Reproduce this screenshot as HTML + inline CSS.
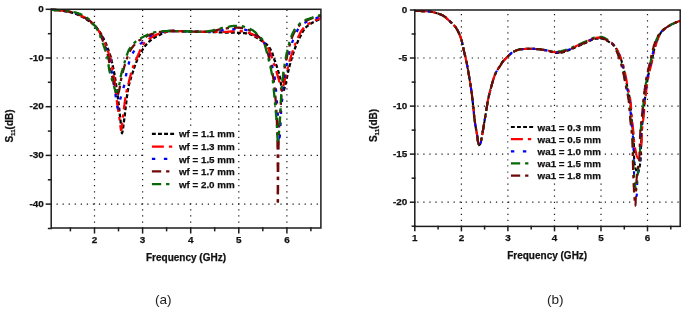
<!DOCTYPE html>
<html lang="en"><head><meta charset="utf-8"><title>S11 parametric study</title>
<style>
html,body{margin:0;padding:0;background:#fff;}
body{width:685px;height:309px;overflow:hidden;}
svg{display:block;}
.t{font-family:"Liberation Sans",Arial,sans-serif;font-weight:bold;font-size:9.9px;fill:#111;stroke:#111;stroke-width:0.25;}
.lg{font-size:9.8px;}
.xl{font-size:10px;}
.cap{font-family:"Liberation Sans",Arial,sans-serif;font-size:13.6px;fill:#222;}
.ax{stroke:#1c1c1c;stroke-width:1.5;stroke-linecap:square;}
.grid{stroke:#1a1a1a;stroke-width:1.2;stroke-dasharray:1.25 4.8;stroke-dashoffset:0.7;}
</style></head><body>
<svg width="685" height="309" viewBox="0 0 685 309">
<rect width="685" height="309" fill="#fff"/>
<g>
<line x1="94.5" y1="228.0" x2="94.5" y2="9.3" class="grid"/>
<line x1="142.6" y1="228.0" x2="142.6" y2="9.3" class="grid"/>
<line x1="190.7" y1="228.0" x2="190.7" y2="9.3" class="grid"/>
<line x1="238.8" y1="228.0" x2="238.8" y2="9.3" class="grid"/>
<line x1="286.9" y1="228.0" x2="286.9" y2="9.3" class="grid"/>
<line x1="51.2" y1="58.0" x2="320.9" y2="58.0" class="grid" style="stroke-dashoffset:0.7"/>
<line x1="51.2" y1="106.7" x2="320.9" y2="106.7" class="grid" style="stroke-dashoffset:0.7"/>
<line x1="51.2" y1="155.4" x2="320.9" y2="155.4" class="grid" style="stroke-dashoffset:0.7"/>
<line x1="51.2" y1="204.1" x2="320.9" y2="204.1" class="grid" style="stroke-dashoffset:0.7"/>
<path d="M51.3,9.9 L52.3,9.9 L53.3,9.9 L54.3,10.0 L55.3,10.0 L56.3,10.1 L57.3,10.1 L58.3,10.2 L59.3,10.3 L60.3,10.4 L61.3,10.6 L62.3,10.7 L63.3,10.8 L64.2,11.0 L65.2,11.1 L66.2,11.3 L67.2,11.5 L68.2,11.7 L69.2,11.9 L70.1,12.1 L71.1,12.4 L72.1,12.6 L73.0,12.9 L74.0,13.2 L74.9,13.5 L75.9,13.9 L76.8,14.3 L77.7,14.7 L78.6,15.1 L79.5,15.5 L80.4,15.9 L81.3,16.4 L82.2,16.8 L83.1,17.3 L84.0,17.8 L84.8,18.3 L85.7,18.8 L86.5,19.4 L87.4,19.9 L88.2,20.5 L89.0,21.1 L89.8,21.7 L90.6,22.3 L91.4,22.9 L92.2,23.5 L93.0,24.2 L93.7,24.8 L94.4,25.5 L95.1,26.2 L95.8,27.0 L96.5,27.7 L97.1,28.5 L97.8,29.2 L98.4,30.0 L99.0,30.8 L99.6,31.7 L100.1,32.5 L100.7,33.3 L101.2,34.2 L101.7,35.0 L102.2,35.9 L102.7,36.8 L103.2,37.7 L103.6,38.6 L104.0,39.5 L104.5,40.4 L104.9,41.3 L105.3,42.2 L105.7,43.1 L106.1,44.0 L106.5,44.9 L106.8,45.9 L107.2,46.8 L107.6,47.7 L107.9,48.7 L108.3,49.6 L108.6,50.6 L109.0,51.5 L109.3,52.5 L109.6,53.4 L109.9,54.4 L110.2,55.3 L110.5,56.3 L110.7,57.2 L111.0,58.2 L111.2,59.2 L111.5,60.1 L111.7,61.1 L111.9,62.1 L112.2,63.0 L112.4,64.0 L112.6,65.0 L112.8,66.0 L113.0,66.9 L113.2,67.9 L113.4,68.9 L113.6,69.9 L113.8,70.9 L114.0,71.9 L114.2,72.9 L114.3,73.8 L114.5,74.8 L114.7,75.8 L114.9,76.8 L115.0,77.8 L115.2,78.8 L115.4,79.8 L115.5,80.7 L115.7,81.7 L115.8,82.7 L116.0,83.7 L116.1,84.7 L116.3,85.7 L116.4,86.7 L116.6,87.7 L116.7,88.7 L116.8,89.6 L117.0,90.6 L117.1,91.6 L117.2,92.6 L117.4,93.6 L117.5,94.6 L117.6,95.6 L117.8,96.6 L117.9,97.6 L118.0,98.6 L118.1,99.6 L118.3,100.6 L118.4,101.5 L118.5,102.5 L118.6,103.5 L118.7,104.5 L118.9,105.5 L119.0,106.5 L119.1,107.5 L119.2,108.5 L119.3,109.5 L119.4,110.5 L119.5,111.5 L119.6,112.5 L119.7,113.5 L119.8,114.5 L119.9,115.5 L120.1,116.5 L120.2,117.4 L120.3,118.4 L120.4,119.4 L120.5,120.4 L120.6,121.4 L120.7,122.4 L120.8,123.4 L120.9,124.4 L121.0,125.4 L121.1,126.4 L121.3,127.6 L121.4,128.9 L121.5,130.2 L121.6,131.4 L121.8,132.3 L121.9,132.9 L122.0,133.0 L122.2,132.7 L122.4,132.1 L122.5,131.3 L122.7,130.3 L122.9,129.2 L123.1,128.0 L123.3,126.7 L123.4,125.3 L123.6,124.1 L123.8,122.9 L123.9,121.8 L124.0,120.8 L124.2,119.8 L124.3,118.9 L124.4,117.9 L124.6,116.9 L124.7,115.9 L124.8,114.9 L124.9,113.9 L125.0,112.9 L125.1,111.9 L125.2,110.9 L125.3,109.9 L125.5,108.9 L125.6,107.9 L125.7,106.9 L125.8,105.9 L125.9,104.9 L126.1,104.0 L126.2,103.0 L126.3,102.0 L126.4,101.0 L126.5,100.0 L126.7,99.0 L126.8,98.0 L126.9,97.0 L127.0,96.0 L127.2,95.0 L127.3,94.0 L127.4,93.0 L127.6,92.0 L127.7,91.1 L127.9,90.1 L128.1,89.1 L128.2,88.1 L128.4,87.1 L128.7,86.2 L128.9,85.2 L129.1,84.2 L129.4,83.3 L129.6,82.3 L129.9,81.3 L130.2,80.4 L130.5,79.4 L130.8,78.4 L131.0,77.5 L131.3,76.5 L131.7,75.6 L132.0,74.6 L132.3,73.7 L132.6,72.7 L132.9,71.8 L133.2,70.8 L133.5,69.9 L133.8,68.9 L134.1,67.9 L134.5,67.0 L134.8,66.0 L135.1,65.1 L135.5,64.2 L135.9,63.2 L136.2,62.3 L136.6,61.4 L137.0,60.4 L137.4,59.5 L137.8,58.6 L138.2,57.7 L138.6,56.8 L139.1,55.9 L139.5,55.1 L140.0,54.2 L140.5,53.3 L141.0,52.4 L141.5,51.5 L142.0,50.6 L142.5,49.8 L143.1,48.9 L143.7,48.1 L144.2,47.3 L144.8,46.4 L145.4,45.6 L146.0,44.9 L146.7,44.1 L147.3,43.4 L148.0,42.7 L148.7,42.0 L149.4,41.3 L150.2,40.6 L151.0,40.0 L151.8,39.4 L152.6,38.8 L153.4,38.2 L154.2,37.7 L155.1,37.2 L156.0,36.7 L156.9,36.2 L157.7,35.7 L158.7,35.3 L159.6,34.9 L160.5,34.4 L161.4,34.0 L162.3,33.7 L163.2,33.3 L164.2,32.8 L165.1,32.4 L166.1,32.0 L167.0,31.7 L168.0,31.4 L168.9,31.1 L169.9,31.0 L170.9,31.0 L171.9,31.0 L172.9,31.0 L173.9,31.0 L174.9,31.1 L175.9,31.1 L176.9,31.1 L177.9,31.1 L178.9,31.2 L179.9,31.2 L180.9,31.2 L181.9,31.3 L182.9,31.3 L183.9,31.3 L184.9,31.3 L185.9,31.4 L186.9,31.4 L187.9,31.4 L188.9,31.5 L189.9,31.5 L190.9,31.5 L191.9,31.5 L192.9,31.6 L193.9,31.6 L194.9,31.6 L195.9,31.6 L196.9,31.7 L197.9,31.7 L198.9,31.7 L199.9,31.7 L200.9,31.7 L201.9,31.8 L202.9,31.8 L203.9,31.8 L204.9,31.9 L205.9,31.9 L206.9,31.9 L207.9,31.9 L208.9,32.0 L209.9,32.0 L210.9,32.0 L211.9,32.1 L212.9,32.1 L213.9,32.1 L214.9,32.2 L215.9,32.2 L216.9,32.2 L217.9,32.3 L218.9,32.3 L219.9,32.3 L220.9,32.4 L221.9,32.4 L222.9,32.4 L223.9,32.5 L224.9,32.5 L225.9,32.5 L226.9,32.5 L227.9,32.6 L228.9,32.6 L229.9,32.6 L230.9,32.6 L231.9,32.6 L232.9,32.7 L233.9,32.7 L234.9,32.7 L235.9,32.7 L236.9,32.7 L237.9,32.8 L238.9,32.8 L239.9,32.8 L240.9,32.9 L241.9,33.0 L242.9,33.0 L243.9,33.1 L244.9,33.2 L245.8,33.3 L246.8,33.5 L247.8,33.7 L248.8,33.9 L249.8,34.2 L250.7,34.5 L251.6,34.9 L252.6,35.2 L253.4,35.7 L254.3,36.1 L255.2,36.7 L256.0,37.2 L256.9,37.8 L257.7,38.3 L258.6,38.8 L259.4,39.4 L260.3,39.9 L261.2,40.4 L262.0,40.9 L262.8,41.5 L263.6,42.1 L264.4,42.7 L265.2,43.4 L266.0,44.0 L266.8,44.7 L267.5,45.4 L268.2,46.1 L268.9,46.9 L269.4,47.7 L270.0,48.4 L270.4,49.3 L270.9,50.1 L271.3,51.0 L271.7,51.9 L272.1,52.8 L272.5,53.7 L272.8,54.7 L273.1,55.7 L273.5,56.6 L273.8,57.6 L274.1,58.6 L274.4,59.6 L274.7,60.5 L275.1,61.5 L275.4,62.5 L275.7,63.4 L276.0,64.3 L276.4,65.3 L276.7,66.2 L277.0,67.2 L277.3,68.1 L277.6,69.1 L277.9,70.1 L278.2,71.0 L278.5,72.0 L278.8,72.9 L279.0,73.9 L279.3,74.9 L279.5,75.8 L279.8,76.9 L280.0,78.0 L280.2,79.2 L280.4,80.5 L280.6,81.8 L280.8,83.1 L281.0,84.3 L281.2,85.6 L281.4,86.8 L281.6,87.9 L281.8,89.0 L282.0,89.9 L282.2,90.7 L282.4,91.3 L282.6,91.7 L282.9,92.0 L283.1,91.9 L283.4,91.5 L283.8,90.6 L284.1,89.5 L284.5,88.3 L284.8,87.1 L285.1,85.9 L285.3,84.9 L285.6,84.0 L285.8,83.0 L286.0,82.0 L286.2,81.0 L286.4,80.1 L286.6,79.1 L286.8,78.1 L287.0,77.1 L287.2,76.1 L287.4,75.1 L287.6,74.2 L287.8,73.2 L288.0,72.2 L288.3,71.2 L288.5,70.3 L288.7,69.3 L288.9,68.3 L289.2,67.3 L289.4,66.4 L289.7,65.4 L289.9,64.4 L290.2,63.5 L290.4,62.5 L290.7,61.5 L291.0,60.6 L291.3,59.6 L291.5,58.7 L291.8,57.7 L292.1,56.7 L292.4,55.8 L292.7,54.8 L293.0,53.9 L293.4,52.9 L293.7,52.0 L294.0,51.0 L294.3,50.1 L294.7,49.2 L295.0,48.2 L295.4,47.3 L295.7,46.4 L296.1,45.4 L296.5,44.5 L296.9,43.6 L297.3,42.7 L297.7,41.8 L298.1,40.8 L298.5,39.9 L299.0,39.0 L299.4,38.1 L299.9,37.2 L300.3,36.4 L300.8,35.5 L301.3,34.5 L301.7,33.6 L302.2,32.7 L302.7,31.8 L303.2,30.9 L303.8,30.1 L304.3,29.3 L304.9,28.5 L305.5,27.8 L306.2,27.1 L306.9,26.5 L307.6,25.9 L308.4,25.3 L309.3,24.7 L310.1,24.1 L311.0,23.6 L311.9,23.0 L312.8,22.5 L313.7,22.0 L314.6,21.6 L315.5,21.1 L316.4,20.7 L317.3,20.3 L318.2,19.9 L319.1,19.5 L320.1,19.1 L321.0,18.8" fill="none" stroke="#000000" stroke-width="2.3" stroke-dasharray="3.9 2.2"/>
<path d="M51.3,9.9 L52.3,9.9 L53.3,9.9 L54.3,10.0 L55.3,10.0 L56.3,10.1 L57.3,10.1 L58.3,10.2 L59.3,10.3 L60.3,10.4 L61.3,10.5 L62.3,10.6 L63.3,10.7 L64.2,10.9 L65.2,11.0 L66.2,11.2 L67.2,11.3 L68.2,11.5 L69.2,11.7 L70.2,11.9 L71.1,12.1 L72.1,12.3 L73.1,12.6 L74.0,12.9 L75.0,13.2 L75.9,13.5 L76.9,13.8 L77.8,14.2 L78.7,14.6 L79.6,15.0 L80.6,15.4 L81.5,15.8 L82.3,16.2 L83.2,16.7 L84.1,17.2 L85.0,17.7 L85.9,18.2 L86.7,18.7 L87.6,19.3 L88.4,19.8 L89.2,20.4 L90.0,21.0 L90.8,21.6 L91.5,22.3 L92.3,22.9 L93.0,23.7 L93.7,24.4 L94.4,25.1 L95.0,25.9 L95.6,26.6 L96.3,27.4 L96.9,28.2 L97.4,29.0 L98.0,29.9 L98.6,30.7 L99.1,31.5 L99.6,32.4 L100.1,33.2 L100.6,34.1 L101.1,35.0 L101.6,35.9 L102.1,36.8 L102.5,37.6 L102.9,38.6 L103.4,39.5 L103.8,40.4 L104.2,41.3 L104.5,42.2 L104.9,43.1 L105.3,44.0 L105.7,45.0 L106.1,45.9 L106.4,46.8 L106.8,47.8 L107.1,48.7 L107.5,49.7 L107.8,50.6 L108.1,51.6 L108.4,52.5 L108.7,53.5 L109.0,54.4 L109.3,55.4 L109.6,56.3 L109.8,57.3 L110.1,58.3 L110.3,59.2 L110.6,60.2 L110.8,61.1 L111.0,62.1 L111.3,63.1 L111.5,64.1 L111.7,65.0 L111.9,66.0 L112.1,67.0 L112.3,68.0 L112.5,69.0 L112.7,70.0 L112.9,70.9 L113.1,71.9 L113.2,72.9 L113.4,73.9 L113.6,74.9 L113.7,75.9 L113.9,76.9 L114.1,77.8 L114.2,78.8 L114.4,79.8 L114.5,80.8 L114.7,81.8 L114.8,82.8 L114.9,83.8 L115.0,84.8 L115.2,85.7 L115.3,86.7 L115.4,87.7 L115.5,88.7 L115.6,89.7 L115.7,90.7 L115.8,91.7 L115.9,92.7 L116.1,93.7 L116.2,94.7 L116.3,95.7 L116.4,96.7 L116.5,97.7 L116.6,98.7 L116.7,99.7 L116.8,100.6 L116.9,101.6 L117.1,102.6 L117.2,103.6 L117.3,104.6 L117.5,105.6 L117.6,106.6 L117.8,107.6 L117.9,108.6 L118.1,109.5 L118.2,110.5 L118.4,111.5 L118.5,112.5 L118.7,113.5 L118.8,114.5 L119.0,115.5 L119.2,116.5 L119.3,117.4 L119.5,118.4 L119.6,119.4 L119.8,120.4 L119.9,121.4 L120.1,122.4 L120.2,123.6 L120.3,124.9 L120.4,126.2 L120.6,127.4 L120.7,128.5 L120.8,129.3 L120.9,129.7 L121.1,129.6 L121.2,129.2 L121.4,128.5 L121.6,127.6 L121.8,126.4 L121.9,125.2 L122.1,123.9 L122.3,122.6 L122.4,121.3 L122.6,120.2 L122.7,119.2 L122.8,118.2 L122.9,117.3 L123.1,116.3 L123.2,115.3 L123.3,114.3 L123.4,113.3 L123.5,112.3 L123.6,111.3 L123.7,110.3 L123.8,109.3 L124.0,108.3 L124.1,107.3 L124.2,106.3 L124.3,105.3 L124.5,104.4 L124.6,103.4 L124.7,102.4 L124.9,101.4 L125.0,100.4 L125.1,99.4 L125.3,98.4 L125.4,97.4 L125.6,96.4 L125.7,95.5 L125.9,94.5 L126.1,93.5 L126.3,92.5 L126.5,91.5 L126.7,90.6 L126.9,89.6 L127.2,88.6 L127.5,87.7 L127.7,86.7 L128.0,85.7 L128.2,84.8 L128.4,83.8 L128.7,82.8 L128.9,81.8 L129.1,80.9 L129.4,79.9 L129.6,78.9 L129.8,77.9 L130.1,77.0 L130.3,76.0 L130.6,75.0 L130.8,74.1 L131.1,73.1 L131.4,72.1 L131.6,71.2 L131.9,70.2 L132.2,69.3 L132.5,68.4 L132.9,67.4 L133.2,66.5 L133.6,65.5 L133.9,64.6 L134.3,63.7 L134.7,62.8 L135.1,61.8 L135.5,60.9 L135.9,60.0 L136.3,59.1 L136.7,58.2 L137.1,57.3 L137.5,56.3 L137.9,55.4 L138.3,54.5 L138.7,53.5 L139.1,52.6 L139.5,51.6 L139.9,50.7 L140.3,49.7 L140.7,48.8 L141.2,47.9 L141.6,47.0 L142.1,46.1 L142.6,45.3 L143.1,44.5 L143.7,43.7 L144.2,43.0 L144.9,42.2 L145.5,41.5 L146.3,40.9 L147.1,40.2 L147.9,39.6 L148.7,39.0 L149.6,38.4 L150.4,37.9 L151.3,37.4 L152.1,36.9 L153.0,36.4 L153.9,35.9 L154.8,35.5 L155.7,35.0 L156.6,34.6 L157.5,34.2 L158.5,33.8 L159.4,33.5 L160.4,33.2 L161.3,32.9 L162.3,32.6 L163.2,32.3 L164.2,32.1 L165.2,31.8 L166.2,31.6 L167.1,31.4 L168.1,31.2 L169.1,31.1 L170.1,31.0 L171.1,31.0 L172.1,31.0 L173.1,31.0 L174.1,31.0 L175.1,31.1 L176.1,31.1 L177.1,31.1 L178.1,31.1 L179.1,31.2 L180.1,31.2 L181.1,31.2 L182.1,31.3 L183.1,31.3 L184.1,31.3 L185.1,31.4 L186.1,31.4 L187.1,31.4 L188.1,31.4 L189.1,31.5 L190.1,31.5 L191.1,31.5 L192.1,31.6 L193.1,31.6 L194.1,31.6 L195.1,31.7 L196.1,31.7 L197.1,31.7 L198.1,31.7 L199.1,31.8 L200.1,31.8 L201.1,31.8 L202.1,31.8 L203.1,31.8 L204.1,31.8 L205.1,31.8 L206.1,31.8 L207.0,31.8 L208.0,31.8 L209.0,31.8 L210.0,31.8 L211.0,31.8 L212.0,31.8 L213.0,31.8 L214.0,31.8 L215.0,31.8 L216.0,31.8 L217.0,31.8 L218.0,31.8 L219.0,31.8 L220.0,31.8 L221.0,31.8 L222.0,31.8 L223.0,31.8 L224.0,31.8 L225.0,31.8 L226.0,31.8 L227.0,31.8 L228.0,31.7 L229.0,31.6 L230.0,31.6 L231.0,31.5 L232.0,31.4 L233.0,31.3 L234.0,31.2 L235.0,31.1 L236.0,31.1 L237.0,31.0 L238.0,31.0 L239.0,31.0 L240.0,31.0 L241.0,31.1 L242.0,31.3 L243.0,31.4 L244.0,31.6 L244.9,31.8 L245.9,32.0 L246.9,32.2 L247.8,32.5 L248.8,32.8 L249.8,33.1 L250.7,33.5 L251.6,33.8 L252.5,34.2 L253.4,34.7 L254.3,35.1 L255.2,35.7 L256.0,36.2 L256.9,36.7 L257.7,37.3 L258.5,37.9 L259.3,38.4 L260.1,39.0 L260.9,39.7 L261.7,40.3 L262.5,41.0 L263.2,41.7 L263.8,42.4 L264.5,43.1 L265.1,43.9 L265.8,44.7 L266.4,45.5 L266.9,46.3 L267.5,47.2 L268.0,48.0 L268.5,48.9 L268.9,49.8 L269.3,50.7 L269.7,51.6 L270.1,52.5 L270.4,53.5 L270.7,54.4 L271.1,55.4 L271.4,56.3 L271.7,57.3 L272.1,58.2 L272.4,59.2 L272.7,60.1 L273.1,61.0 L273.4,62.0 L273.7,62.9 L274.0,63.9 L274.3,64.8 L274.7,65.8 L275.0,66.7 L275.3,67.7 L275.6,68.6 L275.9,69.6 L276.2,70.5 L276.5,71.5 L276.7,72.5 L277.0,73.4 L277.3,74.4 L277.6,75.3 L277.9,76.3 L278.1,77.2 L278.4,78.2 L278.7,79.2 L279.0,80.1 L279.2,81.1 L279.5,82.0 L279.8,83.1 L280.1,84.3 L280.4,85.6 L280.6,86.9 L280.9,88.0 L281.2,89.1 L281.5,89.9 L281.7,90.5 L282.0,90.7 L282.3,90.5 L282.5,89.9 L282.8,88.9 L283.0,87.8 L283.3,86.6 L283.5,85.3 L283.8,84.0 L284.0,83.0 L284.3,82.0 L284.5,81.0 L284.7,80.1 L285.0,79.1 L285.2,78.1 L285.5,77.2 L285.7,76.2 L285.9,75.2 L286.2,74.3 L286.4,73.3 L286.7,72.3 L286.9,71.3 L287.2,70.4 L287.4,69.4 L287.6,68.4 L287.9,67.5 L288.1,66.5 L288.4,65.5 L288.6,64.6 L288.9,63.6 L289.1,62.6 L289.4,61.7 L289.6,60.7 L289.9,59.7 L290.2,58.8 L290.5,57.8 L290.8,56.9 L291.1,55.9 L291.4,55.0 L291.7,54.0 L292.0,53.1 L292.3,52.1 L292.6,51.2 L292.9,50.2 L293.3,49.3 L293.6,48.3 L293.9,47.4 L294.3,46.5 L294.7,45.5 L295.0,44.6 L295.4,43.7 L295.8,42.8 L296.2,41.8 L296.6,40.9 L297.0,40.0 L297.4,39.1 L297.8,38.2 L298.2,37.2 L298.6,36.3 L299.0,35.4 L299.5,34.4 L299.9,33.5 L300.4,32.7 L300.8,31.8 L301.3,31.0 L301.9,30.2 L302.5,29.4 L303.1,28.6 L303.8,27.9 L304.5,27.2 L305.2,26.5 L306.0,25.8 L306.8,25.1 L307.6,24.5 L308.4,23.9 L309.2,23.4 L310.0,22.9 L310.9,22.4 L311.8,21.9 L312.7,21.5 L313.6,21.1 L314.5,20.7 L315.4,20.2 L316.4,19.8 L317.3,19.5 L318.2,19.1 L319.1,18.7 L320.1,18.3 L321.0,18.0" fill="none" stroke="#ff0000" stroke-width="2.3" stroke-dasharray="12 5 3.3 5"/>
<path d="M51.3,9.9 L52.3,9.9 L53.3,9.9 L54.3,10.0 L55.3,10.0 L56.3,10.1 L57.3,10.1 L58.3,10.2 L59.3,10.3 L60.3,10.4 L61.3,10.5 L62.3,10.6 L63.3,10.7 L64.3,10.9 L65.2,11.0 L66.2,11.2 L67.2,11.3 L68.2,11.5 L69.2,11.7 L70.2,11.9 L71.1,12.1 L72.1,12.3 L73.1,12.6 L74.0,12.9 L75.0,13.2 L75.9,13.5 L76.9,13.9 L77.8,14.2 L78.7,14.6 L79.7,15.0 L80.6,15.4 L81.5,15.8 L82.4,16.3 L83.3,16.7 L84.1,17.2 L85.0,17.7 L85.9,18.2 L86.8,18.7 L87.6,19.3 L88.4,19.8 L89.2,20.4 L90.0,21.0 L90.8,21.6 L91.6,22.3 L92.3,23.0 L93.0,23.7 L93.7,24.4 L94.4,25.1 L95.0,25.9 L95.7,26.7 L96.3,27.4 L96.9,28.2 L97.5,29.1 L98.1,29.9 L98.6,30.7 L99.2,31.6 L99.7,32.4 L100.2,33.3 L100.6,34.2 L101.0,35.1 L101.4,36.0 L101.8,36.9 L102.2,37.9 L102.5,38.8 L102.9,39.7 L103.3,40.7 L103.6,41.6 L104.0,42.5 L104.3,43.5 L104.7,44.4 L105.1,45.3 L105.4,46.3 L105.8,47.2 L106.1,48.2 L106.4,49.1 L106.8,50.1 L107.1,51.0 L107.4,52.0 L107.7,52.9 L108.0,53.9 L108.3,54.8 L108.6,55.8 L108.8,56.7 L109.0,57.7 L109.3,58.7 L109.5,59.6 L109.7,60.6 L109.9,61.6 L110.1,62.6 L110.3,63.5 L110.5,64.5 L110.7,65.5 L110.9,66.5 L111.1,67.5 L111.2,68.5 L111.4,69.4 L111.6,70.4 L111.7,71.4 L111.9,72.4 L112.1,73.4 L112.2,74.4 L112.4,75.4 L112.6,76.4 L112.7,77.4 L112.9,78.3 L113.1,79.3 L113.2,80.3 L113.4,81.3 L113.5,82.3 L113.7,83.3 L113.8,84.3 L114.0,85.2 L114.1,86.2 L114.3,87.2 L114.4,88.2 L114.6,89.2 L114.7,90.2 L114.9,91.2 L115.0,92.2 L115.2,93.2 L115.4,94.1 L115.5,95.1 L115.7,96.1 L115.8,97.1 L116.0,98.1 L116.2,99.2 L116.4,100.4 L116.5,101.7 L116.7,103.0 L116.9,104.2 L117.1,105.4 L117.3,106.5 L117.5,107.4 L117.7,108.1 L117.9,108.4 L118.1,108.5 L118.3,108.1 L118.5,107.5 L118.7,106.6 L119.0,105.5 L119.2,104.3 L119.5,103.0 L119.7,101.7 L120.0,100.5 L120.2,99.4 L120.5,98.4 L120.7,97.4 L121.0,96.5 L121.3,95.5 L121.6,94.6 L121.9,93.6 L122.2,92.7 L122.5,91.7 L122.8,90.7 L123.0,89.8 L123.3,88.8 L123.5,87.8 L123.8,86.9 L124.0,85.9 L124.2,84.9 L124.4,83.9 L124.6,83.0 L124.8,82.0 L125.0,81.0 L125.2,80.0 L125.4,79.0 L125.5,78.1 L125.7,77.1 L125.9,76.1 L126.1,75.1 L126.3,74.1 L126.5,73.1 L126.7,72.2 L126.9,71.2 L127.1,70.2 L127.4,69.2 L127.6,68.3 L127.8,67.3 L128.1,66.3 L128.3,65.3 L128.6,64.3 L128.8,63.4 L129.1,62.4 L129.4,61.4 L129.7,60.5 L130.0,59.5 L130.3,58.6 L130.6,57.7 L131.0,56.8 L131.4,55.9 L131.8,55.0 L132.3,54.1 L132.8,53.2 L133.3,52.3 L133.8,51.4 L134.4,50.6 L135.0,49.8 L135.6,49.0 L136.2,48.2 L136.8,47.4 L137.4,46.7 L138.1,46.0 L138.8,45.3 L139.6,44.6 L140.3,43.9 L141.1,43.3 L141.9,42.6 L142.6,42.0 L143.4,41.3 L144.2,40.7 L144.9,40.0 L145.7,39.3 L146.5,38.7 L147.3,38.0 L148.0,37.4 L148.8,36.8 L149.7,36.2 L150.5,35.7 L151.4,35.3 L152.3,34.9 L153.2,34.6 L154.1,34.2 L155.1,33.9 L156.0,33.6 L157.0,33.3 L158.0,33.1 L159.0,32.8 L160.0,32.6 L161.0,32.4 L161.9,32.2 L162.9,32.0 L163.9,31.8 L164.9,31.6 L165.9,31.4 L166.9,31.3 L167.9,31.2 L168.9,31.1 L169.9,31.0 L170.8,31.0 L171.8,31.0 L172.8,31.0 L173.8,31.0 L174.8,31.1 L175.8,31.1 L176.8,31.1 L177.8,31.1 L178.8,31.2 L179.8,31.2 L180.8,31.2 L181.8,31.2 L182.8,31.3 L183.8,31.3 L184.8,31.3 L185.8,31.4 L186.8,31.4 L187.8,31.4 L188.8,31.5 L189.8,31.5 L190.8,31.5 L191.8,31.6 L192.8,31.6 L193.8,31.6 L194.8,31.6 L195.8,31.7 L196.8,31.7 L197.8,31.7 L198.8,31.8 L199.8,31.8 L200.8,31.8 L201.8,31.8 L202.8,31.8 L203.8,31.8 L204.8,31.8 L205.8,31.7 L206.8,31.7 L207.8,31.6 L208.8,31.6 L209.8,31.5 L210.8,31.4 L211.8,31.4 L212.8,31.3 L213.8,31.2 L214.8,31.1 L215.8,31.0 L216.8,30.9 L217.8,30.7 L218.8,30.6 L219.8,30.5 L220.8,30.4 L221.8,30.3 L222.8,30.2 L223.7,30.1 L224.7,30.0 L225.7,29.9 L226.7,29.8 L227.7,29.7 L228.7,29.6 L229.7,29.5 L230.7,29.4 L231.7,29.4 L232.7,29.3 L233.7,29.2 L234.7,29.2 L235.7,29.1 L236.7,29.0 L237.7,29.0 L238.7,29.0 L239.7,29.0 L240.7,29.1 L241.7,29.2 L242.7,29.4 L243.7,29.5 L244.7,29.7 L245.6,29.9 L246.6,30.1 L247.6,30.4 L248.6,30.7 L249.5,31.0 L250.5,31.3 L251.4,31.7 L252.3,32.1 L253.1,32.6 L253.9,33.1 L254.7,33.7 L255.5,34.4 L256.3,35.0 L257.1,35.7 L257.8,36.4 L258.6,37.0 L259.4,37.7 L260.1,38.4 L260.9,39.0 L261.6,39.8 L262.3,40.5 L262.9,41.2 L263.5,42.0 L264.1,42.8 L264.6,43.6 L265.1,44.5 L265.6,45.4 L266.0,46.3 L266.5,47.2 L266.9,48.2 L267.3,49.1 L267.6,50.0 L268.0,51.0 L268.3,51.9 L268.6,52.8 L268.9,53.8 L269.2,54.7 L269.4,55.7 L269.7,56.7 L269.9,57.7 L270.2,58.6 L270.4,59.6 L270.6,60.6 L270.9,61.6 L271.1,62.5 L271.4,63.5 L271.7,64.5 L271.9,65.4 L272.2,66.4 L272.5,67.4 L272.8,68.3 L273.0,69.3 L273.3,70.3 L273.5,71.2 L273.8,72.2 L274.0,73.2 L274.2,74.1 L274.4,75.1 L274.5,76.1 L274.7,77.1 L274.8,78.1 L274.9,79.1 L275.0,80.1 L275.2,81.0 L275.3,82.0 L275.4,83.0 L275.5,84.0 L275.6,85.0 L275.6,86.0 L275.7,87.0 L275.8,88.0 L275.9,89.0 L276.0,90.0 L276.1,91.0 L276.2,92.0 L276.3,93.0 L276.3,94.0 L276.4,95.0 L276.5,96.0 L276.6,97.0 L276.6,98.0 L276.7,99.0 L276.8,100.0 L276.9,101.0 L276.9,102.0 L277.0,103.0 L277.1,104.0 L277.1,105.0 L277.2,106.0 L277.3,107.0 L277.3,108.0 L277.4,109.0 L277.5,110.0 L277.6,111.0 L277.6,111.9 L277.7,112.9 L277.8,113.9 L277.9,114.9 L277.9,115.9 L278.0,116.9 L278.1,117.9 L278.2,118.9 L278.2,119.9 L278.3,120.9 L278.4,121.9 L278.5,122.9 L278.5,123.9 L278.6,124.9 L278.7,125.9 L278.8,126.9 L278.8,127.9 L278.9,128.9 L279.0,129.9 L279.1,131.0 L279.2,132.3 L279.2,133.6 L279.3,134.8 L279.4,135.9 L279.5,136.7 L279.6,137.0 L279.7,136.8 L279.8,136.1 L279.9,135.1 L279.9,133.9 L280.0,132.6 L280.1,131.3 L280.2,130.2 L280.3,129.2 L280.3,128.2 L280.4,127.2 L280.4,126.2 L280.5,125.2 L280.5,124.2 L280.6,123.2 L280.6,122.2 L280.7,121.2 L280.7,120.2 L280.7,119.2 L280.8,118.2 L280.8,117.2 L280.9,116.2 L280.9,115.2 L281.0,114.2 L281.0,113.2 L281.1,112.2 L281.1,111.2 L281.2,110.2 L281.3,109.2 L281.3,108.2 L281.4,107.2 L281.5,106.2 L281.6,105.2 L281.7,104.2 L281.8,103.2 L281.9,102.2 L282.0,101.2 L282.1,100.2 L282.2,99.2 L282.3,98.3 L282.4,97.3 L282.5,96.3 L282.6,95.3 L282.7,94.3 L282.8,93.3 L282.9,92.3 L282.9,91.3 L283.0,90.3 L283.1,89.3 L283.2,88.3 L283.3,87.3 L283.4,86.3 L283.4,85.3 L283.5,84.3 L283.6,83.3 L283.7,82.3 L283.8,81.3 L284.0,80.3 L284.1,79.3 L284.2,78.4 L284.4,77.4 L284.5,76.4 L284.7,75.4 L284.9,74.4 L285.0,73.4 L285.2,72.4 L285.4,71.5 L285.6,70.5 L285.8,69.5 L286.0,68.5 L286.2,67.5 L286.4,66.6 L286.6,65.6 L286.8,64.6 L287.0,63.6 L287.2,62.6 L287.4,61.6 L287.6,60.7 L287.8,59.7 L288.0,58.7 L288.2,57.7 L288.4,56.7 L288.6,55.8 L288.8,54.8 L289.1,53.8 L289.3,52.9 L289.5,51.9 L289.8,50.9 L290.0,50.0 L290.3,49.0 L290.5,48.0 L290.8,47.0 L291.1,46.1 L291.4,45.1 L291.7,44.2 L292.0,43.2 L292.3,42.2 L292.6,41.3 L292.9,40.4 L293.3,39.4 L293.6,38.5 L294.0,37.6 L294.3,36.6 L294.7,35.7 L295.1,34.8 L295.6,33.8 L296.0,32.9 L296.5,32.0 L297.0,31.1 L297.5,30.2 L298.0,29.4 L298.5,28.6 L299.1,27.9 L299.7,27.1 L300.4,26.4 L301.1,25.7 L301.9,25.0 L302.7,24.4 L303.5,23.7 L304.3,23.1 L305.2,22.6 L306.0,22.0 L306.9,21.6 L307.8,21.1 L308.7,20.7 L309.6,20.4 L310.5,20.0 L311.5,19.7 L312.4,19.4 L313.4,19.0 L314.4,18.7 L315.3,18.4 L316.3,18.1 L317.2,17.7 L318.1,17.4 L319.1,17.1 L320.0,16.8 L321.0,16.5" fill="none" stroke="#0000ff" stroke-width="2.3" stroke-dasharray="3.4 8.6"/>
<path d="M277.9,202.5 L277.9,201.5 L277.9,200.5 L277.9,199.5 L277.9,198.5 L277.9,197.5 L277.9,196.5 L277.9,195.5 L277.9,194.5 L277.9,193.5 L277.9,192.5 L277.9,191.5 L277.9,190.5 L277.9,189.5 L277.9,188.5 L277.9,187.5 L277.9,186.5 L277.9,185.5 L277.9,184.5 L277.9,183.5 L277.8,182.5 L277.8,181.5 L277.8,180.5 L277.8,179.5 L277.8,178.5 L277.8,177.5 L277.8,176.5 L277.8,175.5 L277.8,174.5 L277.8,173.5 L277.8,172.5 L277.8,171.5 L277.8,170.5 L277.8,169.5 L277.8,168.5 L277.8,167.5 L277.7,166.5 L277.7,165.5 L277.7,164.5 L277.7,163.5 L277.7,162.6 L277.7,161.6 L277.7,160.6 L277.7,159.6 L277.7,158.6 L277.7,157.6 L277.7,156.6 L277.7,155.6 L277.6,154.6 L277.6,153.6 L277.6,152.6 L277.6,151.6 L277.6,150.6 L277.6,149.6 L277.6,148.6 L277.6,147.6 L277.5,146.6 L277.5,145.6 L277.5,144.6 L277.5,143.6 L277.5,142.6 L277.5,141.6 L277.4,140.6 L277.4,139.6 L277.4,138.6 L277.4,137.6 L277.4,136.6 L277.3,135.6 L277.3,134.6 L277.3,133.6 L277.3,132.6 L277.2,131.6 L277.2,130.6 L277.2,129.6 L277.2,128.6 L277.1,127.6 L277.1,126.6 L277.1,125.6 L277.0,124.6 L277.0,123.6 L276.9,122.6 L276.9,121.6 L276.9,120.6 L276.8,119.6 L276.8,118.6 L276.7,117.6 L276.7,116.6 L276.6,115.6 L276.6,114.6 L276.5,113.6 L276.4,112.6 L276.4,111.6 L276.3,110.6 L276.3,109.6 L276.2,108.6 L276.2,107.6 L276.1,106.7 L276.0,105.7 L276.0,104.7 L275.9,103.7 L275.8,102.7 L275.8,101.7 L275.7,100.7 L275.6,99.7 L275.5,98.7 L275.5,97.7 L275.4,96.7 L275.3,95.7 L275.2,94.7 L275.1,93.7 L275.1,92.7 L275.0,91.7 L274.9,90.7 L274.8,89.7 L274.7,88.7 L274.6,87.7 L274.5,86.7 L274.3,85.8 L274.2,84.8 L274.1,83.8 L274.0,82.8 L273.9,81.8 L273.7,80.8 L273.6,79.8 L273.4,78.8 L273.3,77.8 L273.1,76.8 L273.0,75.9 L272.8,74.9 L272.6,73.9 L272.4,72.9 L272.3,71.9 L272.1,71.0 L271.8,70.0 L271.6,69.0 L271.4,68.0 L271.2,67.1 L271.0,66.1 L270.7,65.1 L270.5,64.1 L270.3,63.2 L270.0,62.2 L269.8,61.2 L269.6,60.2 L269.4,59.3 L269.1,58.3 L268.9,57.3 L268.7,56.3 L268.4,55.4 L268.2,54.4 L267.9,53.4 L267.6,52.5 L267.4,51.5 L267.1,50.6 L266.7,49.6 L266.4,48.6 L266.1,47.7 L265.7,46.7 L265.4,45.8 L265.0,44.9 L264.5,44.0 L264.1,43.1 L263.6,42.2 L263.1,41.4 L262.6,40.6 L261.9,39.9 L261.3,39.1 L260.6,38.4 L259.8,37.7 L259.1,37.0 L258.3,36.3 L257.6,35.6 L256.8,35.0 L256.1,34.3 L255.3,33.7 L254.5,33.1 L253.6,32.5 L252.8,32.0 L252.0,31.5 L251.1,31.0 L250.2,30.6 L249.3,30.2 L248.3,29.8 L247.4,29.4 L246.4,29.1 L245.5,28.9 L244.5,28.6 L243.5,28.4 L242.6,28.2 L241.6,28.0 L240.6,27.8 L239.6,27.7 L238.6,27.7 L237.6,27.7 L236.6,27.7 L235.6,27.7 L234.6,27.8 L233.6,27.8 L232.6,27.9 L231.6,27.9 L230.6,28.0 L229.6,28.0 L228.6,28.1 L227.6,28.2 L226.6,28.4 L225.6,28.5 L224.7,28.7 L223.7,28.9 L222.7,29.0 L221.7,29.2 L220.7,29.4 L219.7,29.5 L218.7,29.7 L217.8,29.9 L216.8,30.1 L215.8,30.3 L214.8,30.4 L213.8,30.6 L212.8,30.8 L211.9,31.0 L210.9,31.1 L209.9,31.2 L208.9,31.3 L207.9,31.4 L206.9,31.6 L205.9,31.7 L204.9,31.7 L203.9,31.8 L202.9,31.8 L201.9,31.8 L200.9,31.8 L199.9,31.8 L198.9,31.8 L197.9,31.7 L196.9,31.7 L195.9,31.7 L194.9,31.6 L193.9,31.6 L192.9,31.6 L191.9,31.6 L190.9,31.5 L189.9,31.5 L188.9,31.5 L187.9,31.4 L186.9,31.4 L185.9,31.4 L184.9,31.3 L184.0,31.3 L183.0,31.3 L182.0,31.3 L181.0,31.2 L180.0,31.2 L179.0,31.2 L178.0,31.1 L177.0,31.1 L176.0,31.1 L175.0,31.1 L174.0,31.0 L173.0,31.0 L172.0,31.0 L171.0,31.0 L170.0,31.0 L169.0,31.0 L168.0,31.1 L167.0,31.2 L166.0,31.3 L165.0,31.4 L164.0,31.5 L163.0,31.6 L162.0,31.8 L161.0,31.9 L160.0,32.0 L159.1,32.2 L158.1,32.4 L157.1,32.6 L156.1,32.8 L155.1,33.1 L154.1,33.3 L153.2,33.6 L152.2,33.9 L151.3,34.2 L150.4,34.5 L149.5,34.9 L148.6,35.4 L147.7,35.8 L146.8,36.3 L146.0,36.8 L145.1,37.4 L144.2,37.9 L143.3,38.3 L142.4,38.8 L141.5,39.2 L140.6,39.7 L139.7,40.1 L138.9,40.6 L138.1,41.2 L137.3,41.8 L136.6,42.5 L135.8,43.2 L135.2,43.9 L134.5,44.7 L133.8,45.4 L133.2,46.2 L132.6,47.0 L132.0,47.8 L131.4,48.6 L130.9,49.5 L130.4,50.3 L129.9,51.2 L129.5,52.1 L129.1,53.0 L128.7,53.9 L128.3,54.9 L127.9,55.8 L127.6,56.7 L127.2,57.7 L126.9,58.6 L126.6,59.6 L126.2,60.5 L125.9,61.4 L125.6,62.4 L125.3,63.3 L125.0,64.3 L124.7,65.3 L124.4,66.2 L124.1,67.2 L123.9,68.1 L123.6,69.1 L123.3,70.1 L123.1,71.0 L122.8,72.0 L122.6,73.0 L122.3,73.9 L122.1,74.9 L121.9,75.9 L121.7,76.9 L121.5,77.8 L121.2,78.8 L121.0,79.8 L120.9,80.8 L120.7,81.8 L120.5,82.7 L120.4,83.7 L120.2,84.7 L120.1,85.7 L119.9,86.7 L119.7,87.7 L119.5,88.7 L119.3,89.6 L119.1,90.6 L118.8,91.6 L118.5,92.8 L118.1,94.0 L117.7,95.1 L117.3,95.8 L116.9,96.0 L116.6,95.7 L116.4,94.9 L116.1,93.9 L115.8,92.7 L115.6,91.4 L115.4,90.2 L115.1,89.1 L114.9,88.1 L114.7,87.1 L114.4,86.2 L114.2,85.2 L114.0,84.2 L113.8,83.2 L113.6,82.2 L113.3,81.3 L113.1,80.3 L112.9,79.3 L112.6,78.4 L112.4,77.4 L112.1,76.4 L111.8,75.5 L111.5,74.5 L111.2,73.6 L111.0,72.6 L110.7,71.6 L110.5,70.7 L110.3,69.7 L110.2,68.7 L110.0,67.7 L109.9,66.7 L109.7,65.7 L109.6,64.7 L109.4,63.7 L109.3,62.7 L109.2,61.8 L109.0,60.8 L108.8,59.8 L108.7,58.8 L108.5,57.8 L108.3,56.9 L108.0,55.9 L107.8,54.9 L107.5,54.0 L107.2,53.0 L106.9,52.1 L106.6,51.1 L106.3,50.2 L106.0,49.2 L105.6,48.3 L105.3,47.3 L105.0,46.4 L104.6,45.5 L104.3,44.5 L103.9,43.6 L103.6,42.6 L103.2,41.7 L102.9,40.8 L102.5,39.8 L102.2,38.9 L101.9,37.9 L101.6,37.0 L101.2,36.0 L100.9,35.1 L100.5,34.1 L100.1,33.2 L99.7,32.4 L99.2,31.5 L98.7,30.7 L98.1,29.8 L97.5,29.0 L96.9,28.2 L96.3,27.4 L95.7,26.6 L95.0,25.9 L94.4,25.1 L93.7,24.4 L93.0,23.7 L92.3,22.9 L91.5,22.3 L90.8,21.6 L90.0,21.0 L89.2,20.4 L88.4,19.8 L87.6,19.3 L86.7,18.7 L85.9,18.2 L85.0,17.7 L84.1,17.2 L83.2,16.7 L82.3,16.2 L81.4,15.8 L80.6,15.4 L79.6,15.0 L78.7,14.6 L77.8,14.2 L76.9,13.8 L75.9,13.5 L75.0,13.2 L74.0,12.9 L73.1,12.6 L72.1,12.3 L71.1,12.1 L70.2,11.9 L69.2,11.7 L68.2,11.5 L67.2,11.3 L66.2,11.2 L65.2,11.0 L64.2,10.9 L63.2,10.7 L62.3,10.6 L61.3,10.5 L60.3,10.4 L59.3,10.3 L58.3,10.2 L57.3,10.1 L56.3,10.1 L55.3,10.0 L54.3,10.0 L53.3,9.9 L52.3,9.9 L51.3,9.9" fill="none" stroke="#700808" stroke-width="2.3" stroke-dasharray="9.3 4.9 3.3 4.9" stroke-dashoffset="14.2"/>
<path d="M277.9,202.5 L277.9,201.5 L277.9,200.5 L277.9,199.5 L277.9,198.5 L277.9,197.5 L277.9,196.5 L277.9,195.5 L277.9,194.5 L277.9,193.5 L277.9,192.5 L277.9,191.5 L278.0,190.5 L278.0,189.5 L278.0,188.5 L278.0,187.5 L278.0,186.5 L278.0,185.5 L278.0,184.6 L278.0,183.6 L278.0,182.6 L278.0,181.6 L278.0,180.6 L278.1,179.6 L278.1,178.6 L278.1,177.6 L278.1,176.6 L278.1,175.6 L278.1,174.6 L278.1,173.6 L278.1,172.6 L278.1,171.6 L278.2,170.6 L278.2,169.6 L278.2,168.6 L278.2,167.6 L278.2,166.6 L278.2,165.6 L278.2,164.6 L278.3,163.6 L278.3,162.6 L278.3,161.6 L278.3,160.6 L278.3,159.6 L278.3,158.6 L278.3,157.6 L278.3,156.6 L278.4,155.6 L278.4,154.6 L278.4,153.6 L278.4,152.6 L278.4,151.6 L278.4,150.6 L278.5,149.7 L278.5,148.7 L278.5,147.7 L278.5,146.7 L278.5,145.7 L278.6,144.7 L278.6,143.7 L278.6,142.7 L278.6,141.7 L278.7,140.7 L278.7,139.7 L278.7,138.7 L278.7,137.7 L278.8,136.7 L278.8,135.7 L278.8,134.7 L278.9,133.7 L278.9,132.7 L278.9,131.7 L279.0,130.7 L279.0,129.7 L279.1,128.7 L279.1,127.7 L279.2,126.7 L279.2,125.7 L279.3,124.7 L279.4,123.7 L279.4,122.8 L279.5,121.8 L279.6,120.8 L279.7,119.8 L279.8,118.8 L279.9,117.8 L279.9,116.8 L280.0,115.8 L280.1,114.8 L280.2,113.8 L280.3,112.8 L280.4,111.8 L280.4,110.8 L280.5,109.8 L280.6,108.8 L280.6,107.8 L280.7,106.8 L280.8,105.9 L280.8,104.9 L280.9,103.9 L280.9,102.9 L281.0,101.9 L281.1,100.9 L281.1,99.9 L281.2,98.9 L281.2,97.9 L281.3,96.9 L281.4,95.9 L281.4,94.9 L281.5,93.9 L281.6,92.9 L281.6,91.9 L281.7,90.9 L281.8,89.9 L281.9,88.9 L282.0,87.9 L282.1,87.0 L282.2,86.0 L282.3,85.0 L282.5,84.0 L282.6,83.0 L282.7,82.0 L282.9,81.0 L283.0,80.0 L283.1,79.0 L283.3,78.1 L283.4,77.1 L283.5,76.1 L283.6,75.1 L283.8,74.1 L283.9,73.1 L284.1,72.1 L284.2,71.1 L284.3,70.1 L284.5,69.2 L284.6,68.2 L284.8,67.2 L285.0,66.2 L285.1,65.2 L285.3,64.2 L285.5,63.3 L285.7,62.3 L285.9,61.3 L286.1,60.3 L286.3,59.4 L286.5,58.4 L286.7,57.4 L287.0,56.4 L287.2,55.5 L287.4,54.5 L287.6,53.5 L287.9,52.6 L288.1,51.6 L288.3,50.6 L288.6,49.6 L288.8,48.7 L289.0,47.7 L289.3,46.7 L289.5,45.7 L289.8,44.8 L290.0,43.8 L290.3,42.8 L290.6,41.9 L290.8,40.9 L291.1,40.0 L291.5,39.0 L291.8,38.1 L292.1,37.2 L292.5,36.3 L292.9,35.3 L293.3,34.4 L293.7,33.5 L294.2,32.6 L294.6,31.7 L295.1,30.8 L295.7,29.9 L296.2,29.1 L296.8,28.3 L297.3,27.6 L298.0,26.8 L298.7,26.1 L299.4,25.4 L300.1,24.7 L300.9,24.0 L301.7,23.4 L302.5,22.8 L303.4,22.2 L304.2,21.7 L305.0,21.2 L305.9,20.8 L306.8,20.3 L307.7,20.0 L308.6,19.6 L309.6,19.2 L310.5,18.9 L311.5,18.5 L312.4,18.2 L313.4,17.9 L314.3,17.5 L315.3,17.2 L316.2,16.9 L317.2,16.6 L318.1,16.3 L319.1,16.0 L320.0,15.8 L321.0,15.5" fill="none" stroke="#700808" stroke-width="2.3" stroke-dasharray="9.3 4.9 3.3 4.9" stroke-dashoffset="14.2"/>
<path d="M51.3,9.9 L52.3,9.9 L53.3,9.9 L54.3,9.9 L55.3,10.0 L56.3,10.0 L57.3,10.0 L58.3,10.1 L59.3,10.1 L60.3,10.2 L61.3,10.3 L62.3,10.3 L63.3,10.4 L64.3,10.5 L65.3,10.6 L66.3,10.7 L67.3,10.9 L68.3,11.0 L69.2,11.1 L70.2,11.3 L71.2,11.5 L72.2,11.6 L73.2,11.8 L74.1,12.1 L75.1,12.3 L76.1,12.6 L77.0,12.9 L78.0,13.2 L78.9,13.6 L79.9,13.9 L80.8,14.3 L81.7,14.7 L82.6,15.1 L83.5,15.6 L84.4,16.1 L85.2,16.6 L86.1,17.1 L86.9,17.7 L87.7,18.3 L88.5,18.9 L89.3,19.5 L90.0,20.2 L90.7,20.9 L91.4,21.6 L92.1,22.4 L92.8,23.1 L93.4,23.9 L94.0,24.7 L94.6,25.5 L95.2,26.3 L95.7,27.1 L96.3,28.0 L96.8,28.8 L97.3,29.7 L97.8,30.6 L98.2,31.5 L98.7,32.4 L99.1,33.3 L99.5,34.2 L99.8,35.1 L100.2,36.1 L100.5,37.0 L100.9,37.9 L101.2,38.9 L101.5,39.8 L101.9,40.8 L102.2,41.7 L102.6,42.7 L102.9,43.6 L103.3,44.5 L103.6,45.5 L103.9,46.4 L104.3,47.4 L104.6,48.3 L104.9,49.3 L105.3,50.2 L105.6,51.2 L105.9,52.1 L106.2,53.1 L106.4,54.0 L106.7,55.0 L106.9,56.0 L107.2,56.9 L107.4,57.9 L107.6,58.9 L107.7,59.8 L107.9,60.8 L108.1,61.8 L108.2,62.8 L108.3,63.8 L108.5,64.8 L108.6,65.8 L108.8,66.8 L108.9,67.8 L109.1,68.8 L109.2,69.7 L109.4,70.7 L109.7,71.7 L109.9,72.7 L110.2,73.6 L110.4,74.6 L110.7,75.5 L111.0,76.5 L111.3,77.5 L111.6,78.4 L111.9,79.4 L112.2,80.3 L112.5,81.3 L112.7,82.3 L113.0,83.2 L113.3,84.2 L113.6,85.1 L113.9,86.1 L114.2,87.0 L114.5,88.1 L114.9,89.3 L115.3,90.5 L115.7,91.4 L116.1,91.9 L116.6,91.9 L117.3,91.1 L117.9,90.1 L118.4,89.1 L118.7,88.2 L118.9,87.2 L119.1,86.3 L119.2,85.3 L119.4,84.3 L119.5,83.3 L119.7,82.2 L119.8,81.2 L120.0,80.2 L120.2,79.2 L120.4,78.3 L120.6,77.3 L120.8,76.3 L121.0,75.3 L121.2,74.4 L121.5,73.4 L121.7,72.4 L122.0,71.4 L122.2,70.5 L122.5,69.5 L122.7,68.6 L123.0,67.6 L123.3,66.6 L123.5,65.7 L123.8,64.7 L124.1,63.7 L124.4,62.8 L124.7,61.8 L125.0,60.9 L125.3,59.9 L125.6,59.0 L125.9,58.0 L126.2,57.1 L126.5,56.1 L126.8,55.2 L127.2,54.2 L127.5,53.2 L127.8,52.3 L128.2,51.4 L128.6,50.5 L129.0,49.6 L129.5,48.8 L130.1,48.0 L130.7,47.2 L131.4,46.4 L132.1,45.6 L132.7,44.9 L133.4,44.1 L134.0,43.3 L134.7,42.6 L135.4,41.9 L136.2,41.2 L136.9,40.6 L137.7,40.0 L138.5,39.5 L139.4,39.0 L140.3,38.5 L141.2,38.0 L142.1,37.5 L143.0,37.1 L143.8,36.6 L144.7,36.1 L145.6,35.7 L146.5,35.2 L147.4,34.7 L148.3,34.3 L149.2,33.9 L150.2,33.6 L151.1,33.3 L152.1,33.0 L153.0,32.7 L154.0,32.5 L155.0,32.2 L155.9,32.0 L156.9,31.8 L157.9,31.6 L158.9,31.5 L159.9,31.4 L160.9,31.3 L161.9,31.3 L162.9,31.2 L163.9,31.2 L164.9,31.1 L165.9,31.1 L166.9,31.1 L167.9,31.0 L168.9,31.0 L169.9,31.0 L170.9,31.0 L171.9,31.0 L172.9,31.0 L173.9,31.0 L174.9,31.1 L175.9,31.1 L176.9,31.1 L177.9,31.1 L178.9,31.2 L179.9,31.2 L180.9,31.2 L181.9,31.3 L182.9,31.3 L183.9,31.3 L184.9,31.3 L185.9,31.4 L186.9,31.4 L187.9,31.4 L188.9,31.5 L189.9,31.5 L190.9,31.5 L191.9,31.6 L192.9,31.6 L193.9,31.6 L194.9,31.6 L195.9,31.7 L196.9,31.7 L197.9,31.7 L198.9,31.8 L199.9,31.8 L200.9,31.8 L201.9,31.8 L202.9,31.8 L203.8,31.8 L204.8,31.7 L205.8,31.6 L206.8,31.5 L207.8,31.3 L208.8,31.2 L209.8,31.0 L210.8,30.9 L211.8,30.7 L212.7,30.4 L213.7,30.2 L214.7,29.9 L215.6,29.7 L216.6,29.4 L217.6,29.1 L218.5,28.9 L219.5,28.6 L220.5,28.4 L221.4,28.2 L222.4,27.9 L223.4,27.7 L224.4,27.5 L225.4,27.3 L226.3,27.1 L227.3,26.9 L228.3,26.8 L229.3,26.6 L230.3,26.4 L231.3,26.2 L232.3,26.1 L233.2,26.0 L234.2,25.9 L235.2,25.8 L236.2,25.8 L237.2,25.8 L238.2,25.8 L239.2,25.8 L240.2,25.8 L241.2,25.9 L242.2,26.1 L243.1,26.4 L244.1,26.8 L245.0,27.2 L246.0,27.5 L246.9,27.8 L247.9,28.1 L248.9,28.5 L249.8,28.9 L250.7,29.3 L251.6,29.7 L252.4,30.1 L253.3,30.7 L254.1,31.3 L254.8,31.9 L255.6,32.6 L256.3,33.3 L257.0,34.0 L257.7,34.7 L258.5,35.4 L259.2,36.2 L259.9,36.9 L260.6,37.6 L261.3,38.4 L262.0,39.1 L262.6,39.9 L263.1,40.7 L263.6,41.6 L264.0,42.4 L264.3,43.3 L264.6,44.3 L264.9,45.2 L265.2,46.2 L265.5,47.2 L265.7,48.2 L266.0,49.2 L266.2,50.2 L266.5,51.1 L266.8,52.1 L267.0,53.1 L267.3,54.0 L267.5,55.0 L267.8,56.0 L268.0,56.9 L268.2,57.9 L268.5,58.9 L268.7,59.9 L268.9,60.8 L269.1,61.8 L269.4,62.8 L269.6,63.7 L269.9,64.7 L270.1,65.7 L270.3,66.7 L270.6,67.6 L270.8,68.6 L271.0,69.6 L271.2,70.6 L271.4,71.5 L271.6,72.5 L271.8,73.5 L272.0,74.5 L272.2,75.5 L272.3,76.4 L272.4,77.4 L272.6,78.4 L272.7,79.4 L272.8,80.4 L272.9,81.4 L273.0,82.4 L273.1,83.4 L273.2,84.4 L273.3,85.4 L273.4,86.4 L273.5,87.4 L273.6,88.4 L273.7,89.4 L273.8,90.4 L273.9,91.3 L274.0,92.3 L274.1,93.3 L274.2,94.3 L274.3,95.3 L274.4,96.3 L274.5,97.3 L274.6,98.3 L274.6,99.3 L274.7,100.3 L274.8,101.3 L274.9,102.3 L275.0,103.3 L275.1,104.3 L275.2,105.3 L275.3,106.3 L275.3,107.3 L275.4,108.3 L275.5,109.3 L275.6,110.3 L275.7,111.2 L275.8,112.2 L275.9,113.2 L276.0,114.2 L276.1,115.2 L276.2,116.2 L276.3,117.2 L276.4,118.2 L276.5,119.2 L276.6,120.2 L276.6,121.2 L276.7,122.2 L276.8,123.3 L276.9,124.4 L276.9,125.6 L277.0,126.9 L277.0,128.2 L277.1,129.6 L277.2,130.9 L277.2,132.2 L277.3,133.5 L277.3,134.7 L277.4,135.8 L277.4,136.9 L277.5,137.8 L277.6,138.7 L277.6,139.4 L277.7,139.9 L277.8,140.2 L277.9,140.4 L278.0,140.3 L278.1,139.9 L278.2,139.2 L278.3,138.2 L278.5,137.1 L278.6,135.9 L278.8,134.6 L278.9,133.3 L279.0,132.0 L279.1,130.8 L279.2,129.8 L279.3,128.8 L279.4,127.8 L279.5,126.8 L279.5,125.8 L279.6,124.8 L279.7,123.8 L279.8,122.8 L279.8,121.8 L279.9,120.8 L279.9,119.8 L280.0,118.8 L280.1,117.8 L280.1,116.8 L280.2,115.8 L280.2,114.8 L280.3,113.8 L280.3,112.8 L280.4,111.8 L280.5,110.8 L280.5,109.8 L280.6,108.8 L280.6,107.8 L280.7,106.8 L280.7,105.8 L280.8,104.8 L280.8,103.8 L280.8,102.8 L280.9,101.8 L280.9,100.8 L281.0,99.8 L281.0,98.8 L281.1,97.8 L281.1,96.8 L281.2,95.8 L281.2,94.8 L281.3,93.8 L281.3,92.8 L281.4,91.8 L281.4,90.8 L281.5,89.9 L281.6,88.9 L281.7,87.9 L281.8,86.9 L281.9,85.9 L282.0,84.9 L282.1,83.9 L282.2,82.9 L282.3,81.9 L282.4,80.9 L282.5,79.9 L282.6,78.9 L282.7,77.9 L282.9,76.9 L283.0,75.9 L283.1,74.9 L283.2,74.0 L283.4,73.0 L283.5,72.0 L283.7,71.0 L283.8,70.0 L283.9,69.0 L284.1,68.0 L284.2,67.0 L284.4,66.0 L284.5,65.1 L284.7,64.1 L284.9,63.1 L285.0,62.1 L285.2,61.1 L285.4,60.1 L285.6,59.1 L285.7,58.2 L285.9,57.2 L286.1,56.2 L286.3,55.2 L286.5,54.2 L286.7,53.3 L286.9,52.3 L287.2,51.3 L287.4,50.3 L287.6,49.4 L287.8,48.4 L288.1,47.4 L288.3,46.4 L288.5,45.5 L288.8,44.5 L289.1,43.5 L289.3,42.6 L289.6,41.6 L289.9,40.6 L290.2,39.7 L290.5,38.7 L290.8,37.8 L291.2,36.9 L291.5,36.0 L291.9,35.0 L292.3,34.1 L292.8,33.1 L293.2,32.2 L293.7,31.3 L294.1,30.4 L294.6,29.6 L295.2,28.7 L295.7,27.9 L296.3,27.2 L296.9,26.4 L297.6,25.7 L298.3,25.0 L299.1,24.3 L299.8,23.6 L300.6,22.9 L301.5,22.3 L302.3,21.8 L303.1,21.3 L304.0,20.8 L304.8,20.3 L305.7,19.9 L306.6,19.5 L307.6,19.2 L308.5,18.8 L309.5,18.5 L310.5,18.1 L311.4,17.8 L312.4,17.5 L313.3,17.2 L314.2,16.9 L315.2,16.6 L316.2,16.3 L317.1,16.0 L318.1,15.7 L319.1,15.5 L320.0,15.2 L321.0,15.0" fill="none" stroke="#066806" stroke-width="2.3" stroke-dasharray="9.3 4.9 3.3 4.9"/>
<rect x="51.2" y="9.3" width="269.7" height="218.7" fill="none" class="ax"/>
<line x1="94.5" y1="228.0" x2="94.5" y2="232.8" class="ax"/>
<line x1="142.6" y1="228.0" x2="142.6" y2="232.8" class="ax"/>
<line x1="190.7" y1="228.0" x2="190.7" y2="232.8" class="ax"/>
<line x1="238.8" y1="228.0" x2="238.8" y2="232.8" class="ax"/>
<line x1="286.9" y1="228.0" x2="286.9" y2="232.8" class="ax"/>
<line x1="70.4" y1="228.0" x2="70.4" y2="230.6" class="ax"/>
<line x1="118.5" y1="228.0" x2="118.5" y2="230.6" class="ax"/>
<line x1="166.6" y1="228.0" x2="166.6" y2="230.6" class="ax"/>
<line x1="214.7" y1="228.0" x2="214.7" y2="230.6" class="ax"/>
<line x1="262.8" y1="228.0" x2="262.8" y2="230.6" class="ax"/>
<line x1="310.9" y1="228.0" x2="310.9" y2="230.6" class="ax"/>
<line x1="51.2" y1="9.3" x2="46.400000000000006" y2="9.3" class="ax"/>
<line x1="51.2" y1="58.0" x2="46.400000000000006" y2="58.0" class="ax"/>
<line x1="51.2" y1="106.7" x2="46.400000000000006" y2="106.7" class="ax"/>
<line x1="51.2" y1="155.4" x2="46.400000000000006" y2="155.4" class="ax"/>
<line x1="51.2" y1="204.1" x2="46.400000000000006" y2="204.1" class="ax"/>
<line x1="51.2" y1="33.7" x2="48.6" y2="33.7" class="ax"/>
<line x1="51.2" y1="82.3" x2="48.6" y2="82.3" class="ax"/>
<line x1="51.2" y1="131.1" x2="48.6" y2="131.1" class="ax"/>
<line x1="51.2" y1="179.8" x2="48.6" y2="179.8" class="ax"/>
<line x1="51.2" y1="228.5" x2="48.6" y2="228.5" class="ax"/>
<text x="94.5" y="243.4" class="t" text-anchor="middle">2</text>
<text x="142.6" y="243.4" class="t" text-anchor="middle">3</text>
<text x="190.7" y="243.4" class="t" text-anchor="middle">4</text>
<text x="238.8" y="243.4" class="t" text-anchor="middle">5</text>
<text x="286.9" y="243.4" class="t" text-anchor="middle">6</text>
<text x="43.7" y="11.9" class="t" text-anchor="end">0</text>
<text x="43.7" y="60.6" class="t" text-anchor="end">-10</text>
<text x="43.7" y="109.3" class="t" text-anchor="end">-20</text>
<text x="43.7" y="158.0" class="t" text-anchor="end">-30</text>
<text x="43.7" y="206.7" class="t" text-anchor="end">-40</text>
<rect x="146.5" y="127" width="91" height="75" fill="#fff"/>
<line x1="151.9" y1="133.8" x2="175.0" y2="133.8" stroke="#000000" stroke-width="2.2" stroke-dasharray="3.9 2.2"/>
<text x="178.9" y="137.4" class="t lg">wf = 1.1 mm</text>
<line x1="151.9" y1="146.6" x2="173.5" y2="146.6" stroke="#ff0000" stroke-width="2.2" stroke-dasharray="12 5 3.3 5"/>
<text x="178.9" y="150.2" class="t lg">wf = 1.3 mm</text>
<line x1="151.9" y1="158.9" x2="173.5" y2="158.9" stroke="#0000ff" stroke-width="2.2" stroke-dasharray="3.4 8.6"/>
<text x="178.9" y="162.5" class="t lg">wf = 1.5 mm</text>
<line x1="151.9" y1="171.4" x2="173.5" y2="171.4" stroke="#700808" stroke-width="2.2" stroke-dasharray="9.3 4.9 3.3 4.9"/>
<text x="178.9" y="175.0" class="t lg">wf = 1.7 mm</text>
<line x1="151.9" y1="184.1" x2="173.5" y2="184.1" stroke="#066806" stroke-width="2.2" stroke-dasharray="9.3 4.9 3.3 4.9"/>
<text x="178.9" y="187.7" class="t lg">wf = 2.0 mm</text>
<text x="186" y="261" class="t xl" text-anchor="middle">Frequency (GHz)</text>
<text transform="translate(12.7,126) rotate(-90)" class="t xl" text-anchor="middle">S<tspan dy="2.2" font-size="6.2">11</tspan><tspan dy="-2.2">(dB)</tspan></text>
<text x="163.2" y="303.6" class="cap" text-anchor="middle">(a)</text>
</g>
<g>
<line x1="461.4" y1="226.4" x2="461.4" y2="10.0" class="grid"/>
<line x1="507.9" y1="226.4" x2="507.9" y2="10.0" class="grid"/>
<line x1="554.5" y1="226.4" x2="554.5" y2="10.0" class="grid"/>
<line x1="601.0" y1="226.4" x2="601.0" y2="10.0" class="grid"/>
<line x1="647.5" y1="226.4" x2="647.5" y2="10.0" class="grid"/>
<line x1="414.8" y1="58.0" x2="680.2" y2="58.0" class="grid" style="stroke-dashoffset:3.6"/>
<line x1="414.8" y1="106.1" x2="680.2" y2="106.1" class="grid" style="stroke-dashoffset:3.6"/>
<line x1="414.8" y1="154.1" x2="680.2" y2="154.1" class="grid" style="stroke-dashoffset:3.6"/>
<line x1="414.8" y1="202.2" x2="680.2" y2="202.2" class="grid" style="stroke-dashoffset:3.6"/>
<path d="M415.5,11.0 L416.5,11.0 L417.5,11.0 L418.5,11.0 L419.5,11.0 L420.5,11.0 L421.5,11.1 L422.5,11.1 L423.5,11.1 L424.5,11.2 L425.5,11.2 L426.5,11.3 L427.5,11.3 L428.5,11.4 L429.5,11.5 L430.5,11.6 L431.5,11.7 L432.4,11.9 L433.4,12.2 L434.4,12.4 L435.4,12.7 L436.3,13.0 L437.3,13.3 L438.2,13.6 L439.2,13.9 L440.1,14.3 L441.1,14.7 L442.0,15.1 L442.9,15.5 L443.8,16.0 L444.6,16.5 L445.3,17.1 L446.1,17.8 L446.8,18.5 L447.6,19.2 L448.3,19.9 L449.0,20.5 L449.8,21.2 L450.5,21.9 L451.3,22.6 L452.0,23.3 L452.7,24.0 L453.4,24.7 L454.1,25.4 L454.8,26.2 L455.4,27.0 L456.0,27.7 L456.5,28.6 L457.0,29.4 L457.5,30.3 L458.0,31.2 L458.4,32.1 L458.8,33.0 L459.3,33.9 L459.7,34.9 L460.0,35.8 L460.4,36.7 L460.7,37.7 L461.0,38.6 L461.3,39.6 L461.6,40.5 L461.9,41.5 L462.1,42.4 L462.3,43.4 L462.6,44.4 L462.8,45.4 L463.0,46.3 L463.2,47.3 L463.4,48.3 L463.6,49.3 L463.8,50.3 L464.0,51.3 L464.3,52.2 L464.5,53.2 L464.7,54.2 L464.9,55.2 L465.2,56.1 L465.4,57.1 L465.6,58.1 L465.8,59.1 L466.1,60.0 L466.3,61.0 L466.5,62.0 L466.7,63.0 L466.9,63.9 L467.1,64.9 L467.3,65.9 L467.5,66.9 L467.6,67.9 L467.8,68.9 L468.0,69.8 L468.2,70.8 L468.3,71.8 L468.5,72.8 L468.7,73.8 L468.8,74.8 L469.0,75.8 L469.2,76.7 L469.3,77.7 L469.5,78.7 L469.7,79.7 L469.8,80.7 L470.0,81.7 L470.1,82.7 L470.3,83.6 L470.5,84.6 L470.6,85.6 L470.8,86.6 L470.9,87.6 L471.1,88.6 L471.2,89.6 L471.3,90.6 L471.5,91.6 L471.6,92.5 L471.7,93.5 L471.9,94.5 L472.0,95.5 L472.1,96.5 L472.2,97.5 L472.3,98.5 L472.5,99.5 L472.6,100.5 L472.7,101.5 L472.8,102.5 L472.9,103.5 L473.0,104.5 L473.1,105.5 L473.2,106.4 L473.4,107.4 L473.5,108.4 L473.6,109.4 L473.7,110.4 L473.8,111.4 L473.9,112.4 L473.9,113.4 L474.0,114.4 L474.1,115.4 L474.2,116.4 L474.4,117.4 L474.5,118.4 L474.6,119.4 L474.7,120.4 L474.8,121.4 L475.0,122.4 L475.1,123.3 L475.3,124.3 L475.4,125.3 L475.6,126.3 L475.7,127.3 L475.9,128.3 L476.1,129.3 L476.3,130.2 L476.4,131.2 L476.6,132.2 L476.8,133.2 L477.0,134.2 L477.1,135.2 L477.3,136.2 L477.4,137.2 L477.5,138.2 L477.6,139.2 L477.7,140.2 L477.9,141.2 L478.1,142.2 L478.3,143.1 L478.7,144.2 L479.2,145.0 L479.8,144.6 L480.4,143.5 L480.7,142.6 L480.9,141.7 L481.1,140.7 L481.3,139.7 L481.5,138.7 L481.7,137.7 L481.8,136.7 L482.0,135.7 L482.2,134.7 L482.4,133.7 L482.6,132.7 L482.7,131.8 L482.9,130.8 L483.1,129.8 L483.2,128.8 L483.4,127.8 L483.6,126.8 L483.7,125.8 L483.9,124.9 L484.1,123.9 L484.2,122.9 L484.4,121.9 L484.5,120.9 L484.7,119.9 L484.9,118.9 L485.0,118.0 L485.2,117.0 L485.4,116.0 L485.5,115.0 L485.7,114.0 L485.8,113.0 L486.0,112.0 L486.2,111.0 L486.3,110.1 L486.5,109.1 L486.7,108.1 L486.8,107.1 L487.0,106.1 L487.1,105.1 L487.3,104.1 L487.5,103.2 L487.6,102.2 L487.8,101.2 L488.0,100.2 L488.2,99.2 L488.4,98.2 L488.6,97.3 L488.8,96.3 L489.0,95.3 L489.3,94.3 L489.5,93.4 L489.8,92.4 L490.0,91.4 L490.3,90.5 L490.5,89.5 L490.8,88.5 L491.0,87.6 L491.3,86.6 L491.6,85.6 L491.8,84.7 L492.1,83.7 L492.4,82.7 L492.6,81.8 L492.9,80.8 L493.2,79.8 L493.5,78.9 L493.8,77.9 L494.1,77.0 L494.5,76.1 L494.8,75.1 L495.2,74.2 L495.6,73.3 L496.0,72.4 L496.5,71.5 L497.0,70.6 L497.5,69.8 L498.0,68.9 L498.6,68.1 L499.1,67.3 L499.7,66.4 L500.3,65.6 L500.8,64.8 L501.3,63.9 L501.8,63.0 L502.4,62.2 L503.0,61.4 L503.6,60.7 L504.3,59.9 L505.0,59.2 L505.8,58.5 L506.5,57.8 L507.2,57.1 L507.9,56.4 L508.6,55.6 L509.3,54.9 L510.1,54.2 L510.8,53.6 L511.6,53.0 L512.4,52.4 L513.2,52.0 L514.1,51.5 L515.0,51.0 L515.9,50.6 L516.9,50.2 L517.9,49.9 L518.8,49.6 L519.8,49.3 L520.8,49.2 L521.8,49.1 L522.7,49.1 L523.7,49.0 L524.7,49.0 L525.7,48.9 L526.7,48.9 L527.8,48.8 L528.8,48.8 L529.8,48.8 L530.8,48.8 L531.8,48.8 L532.8,48.8 L533.8,48.9 L534.8,48.9 L535.8,49.0 L536.8,49.1 L537.8,49.2 L538.8,49.3 L539.8,49.3 L540.7,49.4 L541.7,49.6 L542.7,49.7 L543.7,49.9 L544.7,50.1 L545.7,50.3 L546.7,50.5 L547.6,50.8 L548.6,51.0 L549.6,51.3 L550.5,51.6 L551.5,51.9 L552.5,52.2 L553.4,52.5 L554.4,52.8 L555.4,52.9 L556.3,52.9 L557.3,52.9 L558.4,52.9 L559.4,52.8 L560.3,52.8 L561.3,52.7 L562.3,52.4 L563.3,52.2 L564.2,51.9 L565.2,51.5 L566.1,51.2 L567.1,50.8 L568.0,50.5 L569.0,50.2 L569.9,49.8 L570.8,49.4 L571.7,49.0 L572.7,48.6 L573.6,48.2 L574.5,47.8 L575.4,47.4 L576.3,47.0 L577.2,46.6 L578.1,46.2 L579.1,45.8 L580.0,45.4 L580.9,45.0 L581.8,44.6 L582.7,44.2 L583.6,43.8 L584.5,43.4 L585.5,43.0 L586.4,42.6 L587.3,42.2 L588.2,41.7 L589.1,41.3 L590.0,40.8 L590.9,40.3 L591.8,39.9 L592.8,39.5 L593.7,39.2 L594.6,39.0 L595.6,38.8 L596.6,38.7 L597.6,38.6 L598.6,38.5 L599.6,38.4 L600.6,38.4 L601.6,38.5 L602.5,38.7 L603.5,39.0 L604.4,39.4 L605.3,39.9 L606.3,40.4 L607.2,40.9 L608.0,41.3 L608.9,41.8 L609.8,42.3 L610.7,42.8 L611.6,43.3 L612.4,43.9 L613.2,44.5 L613.9,45.2 L614.5,45.9 L615.1,46.7 L615.6,47.5 L616.1,48.4 L616.6,49.3 L617.1,50.2 L617.6,51.1 L618.0,52.0 L618.4,52.9 L618.8,53.8 L619.2,54.8 L619.6,55.7 L620.0,56.6 L620.4,57.6 L620.7,58.5 L621.0,59.4 L621.4,60.4 L621.7,61.3 L621.9,62.3 L622.2,63.2 L622.5,64.2 L622.8,65.2 L623.0,66.1 L623.3,67.1 L623.5,68.1 L623.7,69.1 L624.0,70.0 L624.2,71.0 L624.4,72.0 L624.6,73.0 L624.9,73.9 L625.1,74.9 L625.3,75.9 L625.5,76.9 L625.7,77.9 L625.8,78.8 L626.0,79.8 L626.2,80.8 L626.4,81.8 L626.5,82.8 L626.7,83.8 L626.9,84.7 L627.1,85.7 L627.3,86.7 L627.5,87.7 L627.7,88.7 L627.9,89.6 L628.1,90.6 L628.3,91.6 L628.6,92.6 L628.8,93.6 L629.0,94.5 L629.2,95.5 L629.4,96.5 L629.6,97.5 L629.7,98.5 L629.9,99.4 L630.0,100.4 L630.1,101.4 L630.3,102.4 L630.4,103.4 L630.5,104.4 L630.5,105.4 L630.6,106.4 L630.7,107.4 L630.8,108.4 L630.9,109.4 L630.9,110.4 L631.0,111.4 L631.1,112.4 L631.1,113.4 L631.2,114.4 L631.3,115.4 L631.4,116.4 L631.5,117.4 L631.5,118.4 L631.6,119.4 L631.7,120.4 L631.8,121.3 L631.9,122.3 L632.1,123.3 L632.2,124.3 L632.3,125.3 L632.4,126.3 L632.5,127.3 L632.6,128.3 L632.7,129.3 L632.8,130.3 L632.9,131.3 L633.0,132.3 L633.1,133.3 L633.2,134.3 L633.3,135.3 L633.4,136.3 L633.5,137.3 L633.6,138.3 L633.6,139.3 L633.7,140.3 L633.8,141.3 L633.8,142.2 L633.8,143.2 L633.9,144.2 L633.9,145.3 L633.9,146.3 L633.9,147.3 L633.9,148.3 L634.0,149.3 L634.0,150.3 L634.0,151.3 L634.0,152.3 L634.0,153.3 L634.0,154.3 L634.1,155.3 L634.1,156.3 L634.1,157.3 L634.1,158.3 L634.2,159.3 L634.2,160.2 L634.3,161.3 L634.4,162.5 L634.6,163.7 L634.9,165.0 L635.1,166.3 L635.4,167.6 L635.7,168.8 L636.1,169.9 L636.4,170.9 L636.7,171.7 L637.0,172.4 L637.3,172.8 L637.6,173.0 L637.8,172.9 L638.1,172.6 L638.3,172.0 L638.6,171.2 L638.9,170.3 L639.2,169.2 L639.4,168.0 L639.7,166.7 L639.9,165.4 L640.1,164.1 L640.3,162.9 L640.5,161.7 L640.6,160.6 L640.6,159.6 L640.7,158.6 L640.7,157.6 L640.8,156.6 L640.8,155.6 L640.8,154.6 L640.9,153.6 L640.9,152.6 L640.9,151.6 L641.0,150.6 L641.0,149.6 L641.0,148.6 L641.0,147.6 L641.1,146.6 L641.1,145.6 L641.1,144.6 L641.2,143.6 L641.2,142.6 L641.2,141.6 L641.3,140.6 L641.3,139.6 L641.3,138.6 L641.4,137.6 L641.4,136.6 L641.5,135.6 L641.5,134.6 L641.6,133.6 L641.6,132.6 L641.7,131.6 L641.7,130.6 L641.8,129.6 L641.8,128.6 L641.9,127.6 L642.0,126.6 L642.1,125.6 L642.2,124.6 L642.4,123.6 L642.5,122.6 L642.6,121.6 L642.7,120.6 L642.9,119.6 L643.0,118.6 L643.1,117.7 L643.2,116.7 L643.3,115.7 L643.4,114.7 L643.5,113.7 L643.6,112.7 L643.7,111.7 L643.8,110.7 L643.9,109.7 L644.0,108.7 L644.1,107.7 L644.2,106.7 L644.2,105.7 L644.3,104.7 L644.4,103.7 L644.5,102.7 L644.6,101.7 L644.7,100.7 L644.8,99.7 L644.9,98.7 L645.1,97.8 L645.2,96.8 L645.3,95.8 L645.4,94.8 L645.5,93.8 L645.6,92.8 L645.7,91.8 L645.9,90.8 L646.0,89.8 L646.1,88.8 L646.3,87.8 L646.4,86.8 L646.5,85.8 L646.7,84.9 L646.8,83.9 L647.0,82.9 L647.1,81.9 L647.3,80.9 L647.5,79.9 L647.7,78.9 L647.8,78.0 L648.0,77.0 L648.2,76.0 L648.4,75.0 L648.6,74.0 L648.8,73.0 L649.0,72.1 L649.2,71.1 L649.5,70.1 L649.7,69.1 L649.9,68.2 L650.2,67.2 L650.4,66.2 L650.7,65.3 L650.9,64.3 L651.2,63.3 L651.4,62.4 L651.6,61.4 L651.8,60.4 L652.1,59.4 L652.3,58.5 L652.5,57.5 L652.7,56.5 L652.9,55.5 L653.1,54.5 L653.3,53.6 L653.5,52.6 L653.7,51.6 L653.9,50.6 L654.2,49.7 L654.4,48.7 L654.7,47.7 L654.9,46.8 L655.2,45.8 L655.5,44.8 L655.8,43.9 L656.1,42.9 L656.4,42.0 L656.8,41.0 L657.1,40.1 L657.5,39.2 L657.9,38.3 L658.3,37.3 L658.7,36.5 L659.2,35.5 L659.7,34.6 L660.2,33.8 L660.7,32.9 L661.3,32.2 L661.9,31.5 L662.6,30.7 L663.4,30.0 L664.1,29.4 L664.9,28.7 L665.7,28.1 L666.5,27.5 L667.4,26.9 L668.2,26.4 L669.0,25.8 L669.9,25.3 L670.7,24.8 L671.6,24.3 L672.5,23.9 L673.5,23.5 L674.4,23.1 L675.3,22.7 L676.2,22.3 L677.1,22.0 L678.1,21.6 L679.0,21.3 L680.0,21.0" fill="none" stroke="#000000" stroke-width="2.1" stroke-dasharray="3.9 2.2"/>
<path d="M415.5,11.0 L416.5,11.0 L417.5,11.0 L418.5,11.0 L419.5,11.0 L420.5,11.0 L421.5,11.1 L422.5,11.1 L423.5,11.1 L424.5,11.2 L425.5,11.2 L426.5,11.3 L427.5,11.3 L428.5,11.4 L429.5,11.5 L430.5,11.6 L431.4,11.7 L432.4,11.9 L433.4,12.2 L434.4,12.4 L435.4,12.7 L436.3,13.0 L437.3,13.3 L438.2,13.6 L439.2,13.9 L440.1,14.3 L441.1,14.7 L442.0,15.1 L442.9,15.5 L443.7,16.0 L444.6,16.5 L445.3,17.1 L446.1,17.8 L446.8,18.5 L447.5,19.2 L448.3,19.9 L449.0,20.5 L449.8,21.2 L450.5,21.9 L451.2,22.5 L451.9,23.2 L452.7,24.0 L453.4,24.7 L454.1,25.4 L454.7,26.2 L455.4,26.9 L455.9,27.7 L456.5,28.5 L457.0,29.4 L457.5,30.2 L457.9,31.1 L458.4,32.0 L458.8,32.9 L459.2,33.9 L459.6,34.8 L460.0,35.7 L460.4,36.7 L460.7,37.6 L461.0,38.6 L461.3,39.5 L461.6,40.5 L461.8,41.4 L462.1,42.4 L462.3,43.4 L462.6,44.3 L462.8,45.3 L463.0,46.3 L463.2,47.3 L463.4,48.3 L463.6,49.2 L463.8,50.2 L464.0,51.2 L464.2,52.2 L464.5,53.2 L464.7,54.1 L464.9,55.1 L465.2,56.1 L465.4,57.0 L465.6,58.0 L465.8,59.0 L466.1,60.0 L466.3,60.9 L466.5,61.9 L466.7,62.9 L466.9,63.9 L467.1,64.9 L467.3,65.8 L467.4,66.8 L467.6,67.8 L467.8,68.8 L468.0,69.8 L468.2,70.7 L468.3,71.7 L468.5,72.7 L468.7,73.7 L468.8,74.7 L469.0,75.7 L469.2,76.7 L469.3,77.6 L469.5,78.6 L469.6,79.6 L469.8,80.6 L470.0,81.6 L470.1,82.6 L470.3,83.6 L470.4,84.5 L470.6,85.5 L470.7,86.5 L470.9,87.5 L471.0,88.5 L471.2,89.5 L471.3,90.5 L471.5,91.5 L471.6,92.5 L471.7,93.4 L471.9,94.4 L472.0,95.4 L472.1,96.4 L472.2,97.4 L472.3,98.4 L472.5,99.4 L472.6,100.4 L472.7,101.4 L472.8,102.4 L472.9,103.4 L473.0,104.4 L473.1,105.4 L473.2,106.3 L473.3,107.3 L473.4,108.3 L473.5,109.3 L473.6,110.3 L473.7,111.3 L473.8,112.3 L473.9,113.3 L474.0,114.3 L474.1,115.3 L474.2,116.3 L474.3,117.3 L474.4,118.3 L474.6,119.3 L474.7,120.3 L474.8,121.2 L474.9,122.2 L475.1,123.2 L475.2,124.2 L475.4,125.2 L475.6,126.2 L475.7,127.2 L475.9,128.1 L476.1,129.1 L476.3,130.1 L476.4,131.1 L476.6,132.1 L476.8,133.1 L476.9,134.1 L477.1,135.0 L477.2,136.0 L477.4,137.0 L477.5,138.0 L477.6,139.1 L477.7,140.1 L477.9,141.1 L478.0,142.0 L478.2,143.0 L478.6,144.0 L479.1,144.9 L479.7,144.7 L480.3,143.7 L480.7,142.7 L480.9,141.8 L481.1,140.8 L481.3,139.8 L481.5,138.8 L481.6,137.8 L481.8,136.8 L482.0,135.8 L482.2,134.9 L482.4,133.9 L482.5,132.9 L482.7,131.9 L482.9,130.9 L483.0,129.9 L483.2,129.0 L483.4,128.0 L483.5,127.0 L483.7,126.0 L483.9,125.0 L484.0,124.0 L484.2,123.0 L484.4,122.1 L484.5,121.1 L484.7,120.1 L484.9,119.1 L485.0,118.1 L485.2,117.1 L485.3,116.1 L485.5,115.2 L485.7,114.2 L485.8,113.2 L486.0,112.2 L486.1,111.2 L486.3,110.2 L486.5,109.2 L486.6,108.3 L486.8,107.3 L487.0,106.3 L487.1,105.3 L487.3,104.3 L487.4,103.3 L487.6,102.3 L487.8,101.4 L487.9,100.4 L488.1,99.4 L488.3,98.4 L488.6,97.4 L488.8,96.5 L489.0,95.5 L489.2,94.5 L489.5,93.5 L489.7,92.6 L490.0,91.6 L490.2,90.6 L490.5,89.7 L490.7,88.7 L491.0,87.7 L491.2,86.8 L491.5,85.8 L491.8,84.8 L492.0,83.9 L492.3,82.9 L492.6,81.9 L492.9,81.0 L493.1,80.0 L493.4,79.1 L493.8,78.1 L494.1,77.2 L494.4,76.2 L494.8,75.3 L495.1,74.4 L495.5,73.5 L496.0,72.6 L496.4,71.7 L496.9,70.8 L497.4,69.9 L497.9,69.1 L498.4,68.2 L499.0,67.4 L499.6,66.6 L500.2,65.8 L500.7,65.0 L501.2,64.1 L501.7,63.2 L502.2,62.4 L502.8,61.6 L503.5,60.8 L504.2,60.1 L504.9,59.4 L505.6,58.7 L506.3,58.0 L507.0,57.3 L507.7,56.5 L508.5,55.8 L509.2,55.1 L509.9,54.4 L510.7,53.7 L511.4,53.1 L512.2,52.5 L513.1,52.1 L513.9,51.6 L514.8,51.1 L515.7,50.7 L516.7,50.3 L517.6,49.9 L518.6,49.6 L519.6,49.4 L520.6,49.2 L521.5,49.2 L522.5,49.1 L523.5,49.0 L524.5,49.0 L525.5,48.9 L526.5,48.9 L527.5,48.8 L528.5,48.8 L529.5,48.8 L530.5,48.8 L531.5,48.8 L532.5,48.8 L533.5,48.9 L534.5,48.9 L535.5,49.0 L536.5,49.1 L537.5,49.2 L538.5,49.2 L539.5,49.3 L540.5,49.4 L541.5,49.5 L542.5,49.7 L543.5,49.8 L544.5,50.0 L545.4,50.2 L546.4,50.4 L547.4,50.5 L548.4,50.7 L549.4,50.9 L550.4,51.2 L551.3,51.4 L552.3,51.7 L553.3,51.9 L554.3,52.0 L555.3,52.2 L556.2,52.2 L557.2,52.1 L558.2,52.0 L559.2,51.9 L560.2,51.8 L561.2,51.6 L562.2,51.4 L563.1,51.1 L564.1,50.8 L565.1,50.5 L566.0,50.2 L567.0,49.9 L567.9,49.6 L568.8,49.2 L569.8,48.9 L570.7,48.5 L571.6,48.1 L572.5,47.7 L573.4,47.3 L574.4,46.9 L575.3,46.5 L576.2,46.0 L577.1,45.6 L578.0,45.2 L578.9,44.8 L579.8,44.4 L580.8,44.0 L581.7,43.6 L582.6,43.2 L583.5,42.8 L584.4,42.4 L585.3,42.0 L586.2,41.6 L587.2,41.2 L588.1,40.8 L589.0,40.3 L589.9,39.9 L590.8,39.4 L591.7,39.0 L592.6,38.6 L593.6,38.2 L594.5,38.0 L595.5,37.8 L596.4,37.7 L597.5,37.6 L598.5,37.5 L599.5,37.4 L600.5,37.4 L601.4,37.4 L602.4,37.6 L603.3,37.9 L604.3,38.3 L605.2,38.8 L606.1,39.3 L607.0,39.8 L607.9,40.2 L608.7,40.7 L609.6,41.3 L610.4,41.9 L611.2,42.5 L612.0,43.1 L612.8,43.8 L613.5,44.5 L614.1,45.3 L614.7,46.0 L615.3,46.8 L615.8,47.6 L616.4,48.5 L616.9,49.4 L617.4,50.3 L617.9,51.2 L618.3,52.1 L618.7,53.0 L619.2,53.9 L619.6,54.8 L620.0,55.7 L620.4,56.6 L620.7,57.5 L621.1,58.5 L621.4,59.4 L621.8,60.4 L622.1,61.3 L622.3,62.3 L622.6,63.2 L622.9,64.2 L623.2,65.1 L623.4,66.1 L623.7,67.1 L623.9,68.1 L624.1,69.0 L624.4,70.0 L624.6,71.0 L624.8,72.0 L625.0,72.9 L625.3,73.9 L625.5,74.9 L625.7,75.9 L625.9,76.8 L626.1,77.8 L626.2,78.8 L626.4,79.8 L626.6,80.8 L626.8,81.8 L626.9,82.7 L627.1,83.7 L627.3,84.7 L627.5,85.7 L627.7,86.7 L627.9,87.7 L628.1,88.6 L628.3,89.6 L628.5,90.6 L628.7,91.6 L628.9,92.5 L629.2,93.5 L629.4,94.5 L629.6,95.5 L629.8,96.5 L630.0,97.4 L630.1,98.4 L630.3,99.4 L630.4,100.4 L630.5,101.4 L630.7,102.4 L630.8,103.4 L630.9,104.3 L630.9,105.3 L631.0,106.3 L631.1,107.3 L631.2,108.3 L631.3,109.3 L631.3,110.3 L631.4,111.3 L631.5,112.3 L631.5,113.3 L631.6,114.3 L631.7,115.3 L631.8,116.3 L631.8,117.3 L631.9,118.3 L632.0,119.3 L632.1,120.3 L632.2,121.3 L632.3,122.3 L632.5,123.3 L632.6,124.3 L632.7,125.3 L632.8,126.2 L632.9,127.2 L633.0,128.2 L633.1,129.2 L633.2,130.2 L633.3,131.2 L633.4,132.2 L633.5,133.2 L633.6,134.2 L633.6,135.2 L633.7,136.2 L633.8,137.2 L633.8,138.2 L633.9,139.2 L634.0,140.2 L634.1,141.2 L634.2,142.2 L634.3,143.2 L634.5,144.3 L634.6,145.5 L634.9,146.7 L635.1,148.0 L635.3,149.3 L635.6,150.6 L635.9,151.8 L636.2,153.1 L636.4,154.2 L636.7,155.3 L637.0,156.3 L637.3,157.1 L637.6,157.9 L637.8,158.4 L638.1,158.8 L638.3,159.0 L638.5,159.0 L638.8,158.7 L639.0,158.3 L639.2,157.6 L639.4,156.9 L639.7,156.0 L639.9,154.9 L640.1,153.8 L640.3,152.6 L640.5,151.4 L640.7,150.1 L640.9,148.8 L641.1,147.5 L641.2,146.2 L641.4,144.9 L641.5,143.8 L641.6,142.7 L641.6,141.7 L641.7,140.7 L641.8,139.7 L641.8,138.7 L641.8,137.7 L641.9,136.7 L641.9,135.7 L641.9,134.7 L642.0,133.7 L642.0,132.7 L642.1,131.7 L642.1,130.7 L642.2,129.7 L642.2,128.7 L642.3,127.7 L642.4,126.7 L642.5,125.7 L642.6,124.7 L642.7,123.8 L642.9,122.8 L643.0,121.8 L643.1,120.8 L643.3,119.8 L643.4,118.8 L643.5,117.8 L643.6,116.8 L643.7,115.8 L643.8,114.8 L643.9,113.8 L644.0,112.8 L644.1,111.8 L644.2,110.8 L644.3,109.9 L644.4,108.9 L644.4,107.9 L644.5,106.9 L644.6,105.9 L644.7,104.9 L644.8,103.9 L644.9,102.9 L645.0,101.9 L645.1,100.9 L645.2,99.9 L645.3,98.9 L645.4,97.9 L645.5,96.9 L645.7,95.9 L645.8,94.9 L645.9,93.9 L646.0,93.0 L646.1,92.0 L646.3,91.0 L646.4,90.0 L646.5,89.0 L646.6,88.0 L646.8,87.0 L646.9,86.0 L647.1,85.0 L647.2,84.0 L647.4,83.1 L647.5,82.1 L647.7,81.1 L647.8,80.1 L648.0,79.1 L648.2,78.1 L648.4,77.2 L648.6,76.2 L648.8,75.2 L649.0,74.2 L649.2,73.2 L649.4,72.3 L649.6,71.3 L649.8,70.3 L650.0,69.3 L650.3,68.4 L650.5,67.4 L650.8,66.4 L651.0,65.5 L651.3,64.5 L651.5,63.5 L651.8,62.6 L652.0,61.6 L652.2,60.6 L652.4,59.6 L652.6,58.7 L652.8,57.7 L653.0,56.7 L653.2,55.7 L653.4,54.7 L653.6,53.8 L653.9,52.8 L654.1,51.8 L654.3,50.8 L654.5,49.9 L654.8,48.9 L655.0,47.9 L655.3,47.0 L655.6,46.0 L655.8,45.0 L656.1,44.1 L656.4,43.1 L656.7,42.2 L657.1,41.2 L657.4,40.3 L657.8,39.4 L658.1,38.4 L658.5,37.5 L658.9,36.6 L659.4,35.7 L659.8,34.8 L660.3,33.9 L660.9,33.1 L661.4,32.3 L662.1,31.5 L662.7,30.8 L663.4,30.1 L664.2,29.4 L664.9,28.8 L665.7,28.1 L666.6,27.5 L667.4,26.9 L668.2,26.3 L669.0,25.8 L669.9,25.3 L670.8,24.8 L671.6,24.3 L672.5,23.9 L673.5,23.5 L674.4,23.1 L675.3,22.7 L676.2,22.3 L677.2,22.0 L678.1,21.6 L679.0,21.3 L680.0,21.0" fill="none" stroke="#ff0000" stroke-width="2.1" stroke-dasharray="12 5 3.3 5"/>
<path d="M415.5,11.0 L416.5,11.0 L417.5,11.0 L418.5,11.0 L419.5,11.0 L420.5,11.0 L421.5,11.1 L422.5,11.1 L423.5,11.1 L424.5,11.2 L425.5,11.2 L426.5,11.3 L427.5,11.3 L428.5,11.4 L429.5,11.5 L430.5,11.6 L431.5,11.7 L432.4,11.9 L433.4,12.2 L434.4,12.4 L435.4,12.7 L436.3,13.0 L437.3,13.3 L438.2,13.6 L439.2,13.9 L440.1,14.3 L441.1,14.7 L442.0,15.1 L442.9,15.5 L443.8,16.0 L444.6,16.5 L445.3,17.1 L446.1,17.8 L446.8,18.5 L447.6,19.2 L448.3,19.9 L449.0,20.5 L449.8,21.2 L450.5,21.9 L451.3,22.6 L452.0,23.3 L452.7,24.0 L453.4,24.7 L454.1,25.4 L454.8,26.2 L455.4,27.0 L456.0,27.7 L456.5,28.6 L457.0,29.4 L457.5,30.3 L458.0,31.2 L458.4,32.1 L458.8,33.0 L459.3,33.9 L459.7,34.8 L460.0,35.8 L460.4,36.7 L460.7,37.7 L461.0,38.6 L461.3,39.6 L461.6,40.5 L461.9,41.5 L462.1,42.4 L462.3,43.4 L462.6,44.4 L462.8,45.4 L463.0,46.3 L463.2,47.3 L463.4,48.3 L463.6,49.3 L463.8,50.3 L464.0,51.3 L464.3,52.2 L464.5,53.2 L464.7,54.2 L464.9,55.2 L465.2,56.1 L465.4,57.1 L465.6,58.1 L465.8,59.0 L466.1,60.0 L466.3,61.0 L466.5,62.0 L466.7,63.0 L466.9,63.9 L467.1,64.9 L467.3,65.9 L467.5,66.9 L467.6,67.9 L467.8,68.8 L468.0,69.8 L468.2,70.8 L468.3,71.8 L468.5,72.8 L468.7,73.8 L468.8,74.8 L469.0,75.7 L469.2,76.7 L469.3,77.7 L469.5,78.7 L469.7,79.7 L469.8,80.7 L470.0,81.7 L470.1,82.6 L470.3,83.6 L470.5,84.6 L470.6,85.6 L470.8,86.6 L470.9,87.6 L471.1,88.6 L471.2,89.6 L471.3,90.6 L471.5,91.5 L471.6,92.5 L471.7,93.5 L471.9,94.5 L472.0,95.5 L472.1,96.5 L472.2,97.5 L472.3,98.5 L472.5,99.5 L472.6,100.5 L472.7,101.5 L472.8,102.5 L472.9,103.5 L473.0,104.5 L473.1,105.4 L473.2,106.4 L473.4,107.4 L473.5,108.4 L473.6,109.4 L473.7,110.4 L473.8,111.4 L473.9,112.4 L473.9,113.4 L474.0,114.4 L474.1,115.4 L474.2,116.4 L474.4,117.4 L474.5,118.4 L474.6,119.4 L474.7,120.4 L474.8,121.4 L475.0,122.3 L475.1,123.3 L475.3,124.3 L475.4,125.3 L475.6,126.3 L475.7,127.3 L475.9,128.3 L476.1,129.2 L476.3,130.2 L476.4,131.2 L476.6,132.2 L476.8,133.2 L477.0,134.2 L477.1,135.2 L477.3,136.1 L477.4,137.1 L477.5,138.2 L477.6,139.2 L477.7,140.2 L477.9,141.2 L478.1,142.1 L478.3,143.1 L478.6,144.2 L479.2,145.0 L479.8,144.6 L480.4,143.6 L480.7,142.6 L480.9,141.7 L481.1,140.7 L481.3,139.7 L481.5,138.7 L481.6,137.7 L481.8,136.7 L482.0,135.7 L482.2,134.7 L482.4,133.7 L482.5,132.8 L482.7,131.8 L482.9,130.8 L483.1,129.8 L483.2,128.8 L483.4,127.8 L483.6,126.8 L483.7,125.9 L483.9,124.9 L484.1,123.9 L484.2,122.9 L484.4,121.9 L484.5,120.9 L484.7,119.9 L484.9,119.0 L485.0,118.0 L485.2,117.0 L485.4,116.0 L485.5,115.0 L485.7,114.0 L485.8,113.0 L486.0,112.1 L486.2,111.1 L486.3,110.1 L486.5,109.1 L486.7,108.1 L486.8,107.1 L487.0,106.1 L487.1,105.1 L487.3,104.2 L487.4,103.2 L487.6,102.2 L487.8,101.2 L488.0,100.2 L488.2,99.2 L488.4,98.3 L488.6,97.3 L488.8,96.3 L489.0,95.3 L489.3,94.4 L489.5,93.4 L489.8,92.4 L490.0,91.5 L490.3,90.5 L490.5,89.5 L490.8,88.6 L491.0,87.6 L491.3,86.6 L491.6,85.7 L491.8,84.7 L492.1,83.7 L492.3,82.7 L492.6,81.8 L492.9,80.8 L493.2,79.9 L493.5,78.9 L493.8,78.0 L494.1,77.0 L494.5,76.1 L494.8,75.1 L495.2,74.2 L495.6,73.3 L496.0,72.4 L496.5,71.5 L497.0,70.6 L497.5,69.8 L498.0,68.9 L498.5,68.1 L499.1,67.3 L499.7,66.5 L500.3,65.6 L500.8,64.8 L501.3,63.9 L501.8,63.1 L502.3,62.2 L502.9,61.4 L503.6,60.7 L504.3,60.0 L505.0,59.2 L505.7,58.5 L506.5,57.8 L507.2,57.1 L507.9,56.4 L508.6,55.7 L509.3,54.9 L510.1,54.2 L510.8,53.6 L511.6,53.0 L512.4,52.4 L513.2,52.0 L514.1,51.5 L515.0,51.1 L515.9,50.6 L516.9,50.2 L517.8,49.9 L518.8,49.6 L519.8,49.3 L520.8,49.2 L521.7,49.1 L522.7,49.1 L523.7,49.0 L524.7,49.0 L525.7,48.9 L526.7,48.9 L527.7,48.8 L528.7,48.8 L529.8,48.8 L530.8,48.8 L531.8,48.8 L532.8,48.8 L533.8,48.9 L534.7,48.9 L535.7,49.0 L536.7,49.1 L537.7,49.2 L538.7,49.3 L539.7,49.3 L540.7,49.4 L541.7,49.6 L542.7,49.7 L543.7,49.9 L544.7,50.1 L545.7,50.2 L546.6,50.4 L547.6,50.6 L548.6,50.8 L549.6,51.1 L550.6,51.3 L551.5,51.6 L552.5,51.9 L553.5,52.1 L554.5,52.3 L555.4,52.4 L556.4,52.4 L557.4,52.3 L558.4,52.3 L559.4,52.2 L560.4,52.0 L561.4,51.9 L562.4,51.7 L563.3,51.4 L564.3,51.1 L565.3,50.8 L566.2,50.4 L567.2,50.1 L568.1,49.8 L569.0,49.5 L570.0,49.1 L570.9,48.7 L571.8,48.3 L572.7,47.9 L573.6,47.5 L574.5,47.1 L575.5,46.7 L576.4,46.3 L577.3,45.9 L578.2,45.5 L579.1,45.1 L580.0,44.7 L581.0,44.3 L581.9,43.9 L582.8,43.4 L583.7,43.0 L584.6,42.6 L585.5,42.2 L586.4,41.8 L587.4,41.4 L588.3,41.0 L589.2,40.5 L590.1,40.1 L591.0,39.6 L591.9,39.2 L592.8,38.8 L593.8,38.5 L594.7,38.2 L595.7,38.1 L596.7,38.0 L597.7,37.9 L598.7,37.8 L599.7,37.7 L600.7,37.7 L601.6,37.8 L602.6,38.0 L603.6,38.3 L604.5,38.7 L605.4,39.2 L606.4,39.7 L607.2,40.2 L608.1,40.7 L609.0,41.2 L609.8,41.7 L610.6,42.3 L611.4,42.9 L612.2,43.6 L612.9,44.3 L613.6,45.0 L614.2,45.8 L614.7,46.6 L615.3,47.4 L615.8,48.3 L616.2,49.2 L616.7,50.1 L617.1,51.0 L617.6,52.0 L618.0,52.9 L618.4,53.8 L618.8,54.7 L619.2,55.6 L619.5,56.6 L619.9,57.5 L620.2,58.4 L620.5,59.4 L620.8,60.3 L621.1,61.3 L621.4,62.2 L621.7,63.2 L622.0,64.2 L622.2,65.1 L622.5,66.1 L622.7,67.1 L623.0,68.0 L623.2,69.0 L623.5,70.0 L623.7,71.0 L623.9,71.9 L624.1,72.9 L624.3,73.9 L624.6,74.9 L624.8,75.8 L625.0,76.8 L625.1,77.8 L625.3,78.8 L625.5,79.8 L625.7,80.8 L625.9,81.7 L626.0,82.7 L626.2,83.7 L626.4,84.7 L626.6,85.7 L626.8,86.7 L627.0,87.6 L627.2,88.6 L627.4,89.6 L627.6,90.6 L627.8,91.6 L628.0,92.5 L628.3,93.5 L628.5,94.5 L628.7,95.5 L628.9,96.4 L629.1,97.4 L629.2,98.4 L629.4,99.4 L629.5,100.4 L629.6,101.4 L629.8,102.4 L629.9,103.4 L630.0,104.3 L630.0,105.3 L630.1,106.3 L630.2,107.3 L630.3,108.3 L630.4,109.3 L630.4,110.3 L630.5,111.3 L630.6,112.3 L630.6,113.3 L630.7,114.3 L630.8,115.3 L630.9,116.3 L630.9,117.3 L631.0,118.3 L631.1,119.3 L631.2,120.3 L631.3,121.3 L631.4,122.3 L631.6,123.3 L631.7,124.3 L631.8,125.3 L631.9,126.3 L632.0,127.3 L632.1,128.2 L632.2,129.2 L632.3,130.2 L632.4,131.2 L632.5,132.2 L632.6,133.2 L632.7,134.2 L632.8,135.2 L632.9,136.2 L633.0,137.2 L633.1,138.2 L633.1,139.2 L633.2,140.2 L633.3,141.2 L633.3,142.2 L633.3,143.2 L633.4,144.2 L633.4,145.2 L633.4,146.2 L633.4,147.2 L633.5,148.2 L633.5,149.2 L633.5,150.2 L633.5,151.2 L633.5,152.2 L633.6,153.2 L633.6,154.2 L633.6,155.2 L633.6,156.2 L633.6,157.2 L633.7,158.2 L633.7,159.2 L633.7,160.2 L633.7,161.2 L633.8,162.2 L633.8,163.2 L633.8,164.2 L633.8,165.2 L633.8,166.2 L633.9,167.2 L633.9,168.2 L633.9,169.2 L633.9,170.2 L634.0,171.2 L634.0,172.2 L634.0,173.2 L634.1,174.2 L634.1,175.2 L634.1,176.2 L634.2,177.2 L634.2,178.2 L634.3,179.2 L634.3,180.2 L634.4,181.2 L634.4,182.2 L634.5,183.2 L634.6,184.4 L634.7,185.7 L634.9,187.0 L635.1,188.3 L635.3,189.6 L635.5,190.9 L635.7,192.0 L635.9,193.1 L636.1,194.1 L636.2,194.9 L636.4,195.5 L636.5,195.9 L636.6,196.0 L636.7,195.9 L636.7,195.5 L636.8,194.9 L636.8,194.1 L636.9,193.1 L636.9,192.0 L637.0,190.8 L637.0,189.5 L637.0,188.2 L637.1,186.8 L637.1,185.5 L637.2,184.3 L637.2,183.1 L637.3,182.0 L637.4,181.0 L637.5,180.0 L637.5,179.0 L637.6,178.0 L637.7,177.1 L637.8,176.1 L638.0,175.1 L638.1,174.1 L638.2,173.1 L638.3,172.1 L638.4,171.1 L638.6,170.1 L638.7,169.1 L638.8,168.1 L639.0,167.1 L639.2,166.1 L639.4,165.2 L639.5,164.2 L639.7,163.2 L639.9,162.2 L640.0,161.2 L640.1,160.2 L640.1,159.2 L640.2,158.2 L640.2,157.2 L640.3,156.2 L640.3,155.2 L640.4,154.2 L640.4,153.2 L640.4,152.2 L640.4,151.2 L640.5,150.2 L640.5,149.2 L640.5,148.2 L640.5,147.2 L640.6,146.2 L640.6,145.2 L640.6,144.2 L640.7,143.2 L640.7,142.2 L640.7,141.2 L640.8,140.2 L640.8,139.2 L640.9,138.2 L640.9,137.2 L640.9,136.2 L641.0,135.2 L641.0,134.2 L641.1,133.2 L641.1,132.2 L641.2,131.2 L641.2,130.3 L641.3,129.3 L641.4,128.3 L641.5,127.3 L641.6,126.3 L641.7,125.3 L641.8,124.3 L641.9,123.3 L642.0,122.3 L642.2,121.3 L642.3,120.3 L642.4,119.3 L642.5,118.3 L642.7,117.3 L642.8,116.3 L642.9,115.3 L643.0,114.4 L643.1,113.4 L643.2,112.4 L643.2,111.4 L643.3,110.4 L643.4,109.4 L643.5,108.4 L643.6,107.4 L643.7,106.4 L643.8,105.4 L643.9,104.4 L644.0,103.4 L644.1,102.4 L644.2,101.4 L644.3,100.4 L644.4,99.4 L644.5,98.4 L644.6,97.4 L644.7,96.4 L644.8,95.4 L644.9,94.5 L645.0,93.5 L645.2,92.5 L645.3,91.5 L645.4,90.5 L645.5,89.5 L645.7,88.5 L645.8,87.5 L645.9,86.5 L646.1,85.5 L646.2,84.5 L646.4,83.6 L646.5,82.6 L646.7,81.6 L646.9,80.6 L647.0,79.6 L647.2,78.6 L647.4,77.6 L647.6,76.7 L647.8,75.7 L648.0,74.7 L648.2,73.7 L648.4,72.7 L648.6,71.8 L648.8,70.8 L649.0,69.8 L649.3,68.8 L649.5,67.9 L649.7,66.9 L650.0,65.9 L650.2,65.0 L650.5,64.0 L650.7,63.0 L651.0,62.1 L651.2,61.1 L651.4,60.1 L651.6,59.1 L651.8,58.1 L652.0,57.2 L652.2,56.2 L652.4,55.2 L652.6,54.2 L652.8,53.3 L653.1,52.3 L653.3,51.3 L653.5,50.3 L653.8,49.4 L654.0,48.4 L654.3,47.4 L654.5,46.5 L654.8,45.5 L655.1,44.5 L655.4,43.6 L655.7,42.6 L656.1,41.7 L656.4,40.8 L656.8,39.8 L657.2,38.9 L657.6,38.0 L658.0,37.1 L658.5,36.2 L659.0,35.3 L659.5,34.4 L660.0,33.6 L660.6,32.8 L661.2,32.0 L661.8,31.3 L662.5,30.6 L663.3,29.9 L664.1,29.3 L664.9,28.7 L665.7,28.1 L666.5,27.5 L667.4,26.9 L668.2,26.3 L669.0,25.8 L669.9,25.3 L670.8,24.8 L671.6,24.4 L672.5,23.9 L673.5,23.5 L674.4,23.1 L675.3,22.7 L676.2,22.3 L677.1,22.0 L678.1,21.6 L679.0,21.3 L680.0,21.0" fill="none" stroke="#0000ff" stroke-width="2.1" stroke-dasharray="3.4 8.6"/>
<path d="M415.5,11.0 L416.5,11.0 L417.5,11.0 L418.5,11.0 L419.5,11.0 L420.5,11.0 L421.5,11.1 L422.5,11.1 L423.5,11.1 L424.5,11.2 L425.5,11.2 L426.5,11.3 L427.5,11.3 L428.5,11.4 L429.5,11.5 L430.5,11.6 L431.4,11.7 L432.4,11.9 L433.4,12.2 L434.4,12.4 L435.4,12.7 L436.3,13.0 L437.3,13.3 L438.2,13.6 L439.2,13.9 L440.1,14.3 L441.1,14.7 L442.0,15.1 L442.9,15.5 L443.7,16.0 L444.6,16.5 L445.3,17.1 L446.1,17.8 L446.8,18.5 L447.5,19.2 L448.3,19.9 L449.0,20.5 L449.8,21.2 L450.5,21.9 L451.2,22.5 L451.9,23.2 L452.7,24.0 L453.4,24.7 L454.1,25.4 L454.7,26.2 L455.4,26.9 L455.9,27.7 L456.5,28.5 L457.0,29.4 L457.5,30.2 L457.9,31.1 L458.4,32.0 L458.8,32.9 L459.2,33.9 L459.6,34.8 L460.0,35.7 L460.4,36.7 L460.7,37.6 L461.0,38.6 L461.3,39.5 L461.6,40.5 L461.8,41.4 L462.1,42.4 L462.3,43.4 L462.6,44.3 L462.8,45.3 L463.0,46.3 L463.2,47.3 L463.4,48.3 L463.6,49.2 L463.8,50.2 L464.0,51.2 L464.2,52.2 L464.5,53.1 L464.7,54.1 L464.9,55.1 L465.2,56.1 L465.4,57.0 L465.6,58.0 L465.8,59.0 L466.1,60.0 L466.3,60.9 L466.5,61.9 L466.7,62.9 L466.9,63.9 L467.1,64.9 L467.3,65.8 L467.4,66.8 L467.6,67.8 L467.8,68.8 L468.0,69.8 L468.2,70.7 L468.3,71.7 L468.5,72.7 L468.7,73.7 L468.8,74.7 L469.0,75.7 L469.2,76.7 L469.3,77.6 L469.5,78.6 L469.6,79.6 L469.8,80.6 L470.0,81.6 L470.1,82.6 L470.3,83.6 L470.4,84.5 L470.6,85.5 L470.7,86.5 L470.9,87.5 L471.0,88.5 L471.2,89.5 L471.3,90.5 L471.5,91.5 L471.6,92.5 L471.7,93.4 L471.9,94.4 L472.0,95.4 L472.1,96.4 L472.2,97.4 L472.3,98.4 L472.5,99.4 L472.6,100.4 L472.7,101.4 L472.8,102.4 L472.9,103.4 L473.0,104.4 L473.1,105.3 L473.2,106.3 L473.3,107.3 L473.4,108.3 L473.5,109.3 L473.6,110.3 L473.7,111.3 L473.8,112.3 L473.9,113.3 L474.0,114.3 L474.1,115.3 L474.2,116.3 L474.3,117.3 L474.4,118.3 L474.6,119.3 L474.7,120.3 L474.8,121.2 L474.9,122.2 L475.1,123.2 L475.2,124.2 L475.4,125.2 L475.6,126.2 L475.7,127.2 L475.9,128.1 L476.1,129.1 L476.3,130.1 L476.4,131.1 L476.6,132.1 L476.8,133.1 L476.9,134.1 L477.1,135.0 L477.2,136.0 L477.4,137.0 L477.5,138.0 L477.6,139.0 L477.7,140.1 L477.9,141.0 L478.0,142.0 L478.2,143.0 L478.6,144.0 L479.1,144.9 L479.7,144.7 L480.3,143.7 L480.7,142.7 L480.9,141.8 L481.1,140.8 L481.3,139.8 L481.5,138.8 L481.6,137.8 L481.8,136.8 L482.0,135.8 L482.2,134.9 L482.4,133.9 L482.5,132.9 L482.7,131.9 L482.9,130.9 L483.0,129.9 L483.2,129.0 L483.4,128.0 L483.5,127.0 L483.7,126.0 L483.9,125.0 L484.0,124.0 L484.2,123.0 L484.4,122.1 L484.5,121.1 L484.7,120.1 L484.9,119.1 L485.0,118.1 L485.2,117.1 L485.3,116.1 L485.5,115.2 L485.7,114.2 L485.8,113.2 L486.0,112.2 L486.1,111.2 L486.3,110.2 L486.5,109.2 L486.6,108.3 L486.8,107.3 L487.0,106.3 L487.1,105.3 L487.3,104.3 L487.4,103.3 L487.6,102.3 L487.8,101.4 L487.9,100.4 L488.1,99.4 L488.3,98.4 L488.6,97.4 L488.8,96.5 L489.0,95.5 L489.2,94.5 L489.5,93.6 L489.7,92.6 L490.0,91.6 L490.2,90.6 L490.5,89.7 L490.7,88.7 L491.0,87.8 L491.2,86.8 L491.5,85.8 L491.8,84.9 L492.0,83.9 L492.3,82.9 L492.6,82.0 L492.9,81.0 L493.1,80.0 L493.4,79.1 L493.8,78.1 L494.1,77.2 L494.4,76.2 L494.8,75.3 L495.1,74.4 L495.5,73.5 L496.0,72.6 L496.4,71.7 L496.9,70.8 L497.4,69.9 L497.9,69.1 L498.4,68.2 L499.0,67.4 L499.6,66.6 L500.2,65.8 L500.7,65.0 L501.2,64.1 L501.7,63.2 L502.2,62.4 L502.8,61.6 L503.5,60.8 L504.2,60.1 L504.9,59.4 L505.6,58.7 L506.3,58.0 L507.0,57.3 L507.7,56.5 L508.4,55.8 L509.2,55.1 L509.9,54.4 L510.7,53.7 L511.4,53.1 L512.2,52.5 L513.0,52.1 L513.9,51.6 L514.8,51.1 L515.7,50.7 L516.7,50.3 L517.6,49.9 L518.6,49.6 L519.6,49.4 L520.6,49.2 L521.5,49.2 L522.5,49.1 L523.5,49.0 L524.5,49.0 L525.5,48.9 L526.5,48.9 L527.5,48.8 L528.5,48.8 L529.5,48.8 L530.5,48.8 L531.5,48.8 L532.5,48.8 L533.5,48.9 L534.5,48.9 L535.5,49.0 L536.5,49.1 L537.5,49.2 L538.5,49.2 L539.5,49.3 L540.5,49.4 L541.5,49.5 L542.5,49.7 L543.5,49.8 L544.5,50.0 L545.4,50.1 L546.4,50.3 L547.4,50.4 L548.4,50.6 L549.4,50.8 L550.4,51.0 L551.4,51.2 L552.3,51.4 L553.3,51.6 L554.3,51.7 L555.3,51.8 L556.3,51.8 L557.3,51.7 L558.3,51.6 L559.3,51.4 L560.3,51.3 L561.2,51.1 L562.2,50.8 L563.2,50.6 L564.1,50.3 L565.1,50.0 L566.0,49.7 L567.0,49.4 L567.9,49.1 L568.9,48.7 L569.8,48.3 L570.7,48.0 L571.6,47.6 L572.6,47.2 L573.5,46.8 L574.4,46.4 L575.3,45.9 L576.2,45.5 L577.1,45.1 L578.0,44.7 L579.0,44.3 L579.9,43.9 L580.8,43.5 L581.7,43.1 L582.6,42.7 L583.5,42.3 L584.4,41.9 L585.4,41.5 L586.3,41.1 L587.2,40.7 L588.1,40.3 L589.0,39.8 L589.9,39.3 L590.8,38.9 L591.7,38.4 L592.7,38.0 L593.6,37.7 L594.5,37.5 L595.5,37.3 L596.5,37.2 L597.5,37.1 L598.5,37.0 L599.5,36.9 L600.5,36.9 L601.5,36.9 L602.4,37.1 L603.4,37.4 L604.4,37.8 L605.3,38.3 L606.2,38.8 L607.1,39.3 L607.9,39.8 L608.7,40.3 L609.5,40.9 L610.3,41.5 L611.0,42.3 L611.7,43.0 L612.4,43.8 L613.0,44.6 L613.6,45.3 L614.2,46.1 L614.7,47.0 L615.2,47.9 L615.7,48.8 L616.1,49.7 L616.6,50.6 L617.0,51.5 L617.4,52.4 L617.8,53.3 L618.2,54.2 L618.5,55.2 L618.9,56.1 L619.2,57.0 L619.6,58.0 L619.9,58.9 L620.2,59.9 L620.5,60.8 L620.8,61.8 L621.1,62.7 L621.3,63.7 L621.6,64.7 L621.9,65.6 L622.1,66.6 L622.4,67.6 L622.6,68.5 L622.8,69.5 L623.1,70.5 L623.3,71.5 L623.5,72.4 L623.7,73.4 L624.0,74.4 L624.2,75.4 L624.4,76.3 L624.6,77.3 L624.7,78.3 L624.9,79.3 L625.1,80.3 L625.3,81.3 L625.5,82.2 L625.6,83.2 L625.8,84.2 L626.0,85.2 L626.2,86.2 L626.4,87.1 L626.6,88.1 L626.8,89.1 L627.0,90.1 L627.2,91.1 L627.4,92.0 L627.6,93.0 L627.9,94.0 L628.1,95.0 L628.3,96.0 L628.5,96.9 L628.6,97.9 L628.8,98.9 L629.0,99.9 L629.1,100.9 L629.2,101.9 L629.3,102.8 L629.4,103.8 L629.5,104.8 L629.6,105.8 L629.7,106.8 L629.7,107.8 L629.8,108.8 L629.9,109.8 L630.0,110.8 L630.0,111.8 L630.1,112.8 L630.2,113.8 L630.2,114.8 L630.3,115.8 L630.4,116.8 L630.5,117.8 L630.6,118.8 L630.7,119.8 L630.8,120.8 L630.9,121.8 L631.0,122.8 L631.1,123.8 L631.2,124.7 L631.3,125.7 L631.4,126.7 L631.6,127.7 L631.7,128.7 L631.8,129.7 L631.9,130.7 L632.0,131.7 L632.1,132.7 L632.2,133.7 L632.2,134.7 L632.3,135.7 L632.4,136.7 L632.5,137.7 L632.6,138.7 L632.7,139.7 L632.7,140.7 L632.8,141.7 L632.8,142.7 L632.8,143.6 L632.9,144.6 L632.9,145.6 L632.9,146.6 L632.9,147.6 L633.0,148.6 L633.0,149.6 L633.0,150.6 L633.0,151.6 L633.0,152.6 L633.0,153.6 L633.1,154.6 L633.1,155.6 L633.1,156.6 L633.1,157.6 L633.2,158.6 L633.2,159.6 L633.2,160.6 L633.3,161.7 L633.3,162.8 L633.4,164.0 L633.4,165.2 L633.5,166.5 L633.6,167.7 L633.7,169.0 L633.8,170.3 L633.9,171.7 L634.0,173.0 L634.1,174.3 L634.2,175.6 L634.3,176.9 L634.4,178.2 L634.5,179.4 L634.6,180.6 L634.8,181.8 L634.9,182.9 L635.0,184.0 L635.1,184.9 L635.2,185.9 L635.4,186.7 L635.5,187.5 L635.6,188.2 L635.7,188.7 L635.8,189.2 L635.9,189.6 L636.0,189.8 L636.1,190.0 L636.2,190.0 L636.3,189.8 L636.4,189.5 L636.5,189.0 L636.6,188.3 L636.7,187.6 L636.8,186.7 L636.9,185.7 L637.0,184.6 L637.0,183.5 L637.1,182.3 L637.2,181.0 L637.3,179.7 L637.4,178.4 L637.5,177.1 L637.6,175.7 L637.7,174.4 L637.8,173.2 L637.9,171.9 L638.0,170.8 L638.1,169.7 L638.2,168.7 L638.4,167.7 L638.6,166.7 L638.7,165.7 L638.9,164.7 L639.1,163.7 L639.3,162.8 L639.4,161.8 L639.5,160.8 L639.6,159.8 L639.7,158.8 L639.7,157.8 L639.8,156.8 L639.8,155.8 L639.8,154.8 L639.9,153.8 L639.9,152.8 L639.9,151.8 L640.0,150.8 L640.0,149.8 L640.0,148.8 L640.0,147.8 L640.1,146.8 L640.1,145.8 L640.1,144.8 L640.1,143.8 L640.2,142.8 L640.2,141.8 L640.3,140.8 L640.3,139.8 L640.3,138.8 L640.4,137.8 L640.4,136.8 L640.5,135.8 L640.5,134.8 L640.5,133.8 L640.6,132.8 L640.6,131.8 L640.7,130.8 L640.8,129.8 L640.8,128.8 L640.9,127.9 L641.0,126.9 L641.1,125.9 L641.2,124.9 L641.3,123.9 L641.5,122.9 L641.6,121.9 L641.7,120.9 L641.8,119.9 L642.0,118.9 L642.1,117.9 L642.2,116.9 L642.3,115.9 L642.4,115.0 L642.5,114.0 L642.6,113.0 L642.7,112.0 L642.8,111.0 L642.9,110.0 L643.0,109.0 L643.0,108.0 L643.1,107.0 L643.2,106.0 L643.3,105.0 L643.4,104.0 L643.5,103.0 L643.6,102.0 L643.7,101.0 L643.8,100.0 L643.9,99.0 L644.0,98.0 L644.1,97.1 L644.2,96.1 L644.4,95.1 L644.5,94.1 L644.6,93.1 L644.7,92.1 L644.8,91.1 L645.0,90.1 L645.1,89.1 L645.2,88.1 L645.4,87.1 L645.5,86.1 L645.6,85.2 L645.8,84.2 L645.9,83.2 L646.1,82.2 L646.3,81.2 L646.4,80.2 L646.6,79.2 L646.8,78.3 L647.0,77.3 L647.2,76.3 L647.3,75.3 L647.5,74.3 L647.7,73.4 L648.0,72.4 L648.2,71.4 L648.4,70.4 L648.6,69.5 L648.8,68.5 L649.1,67.5 L649.3,66.6 L649.6,65.6 L649.8,64.6 L650.1,63.6 L650.3,62.7 L650.6,61.7 L650.8,60.7 L651.0,59.8 L651.2,58.8 L651.4,57.8 L651.6,56.8 L651.8,55.8 L652.0,54.9 L652.2,53.9 L652.4,52.9 L652.6,51.9 L652.9,51.0 L653.1,50.0 L653.3,49.0 L653.6,48.1 L653.9,47.1 L654.1,46.1 L654.4,45.2 L654.7,44.2 L655.0,43.3 L655.4,42.3 L655.7,41.4 L656.1,40.5 L656.5,39.5 L656.9,38.6 L657.3,37.7 L657.8,36.8 L658.2,36.0 L658.7,35.1 L659.3,34.2 L659.8,33.4 L660.4,32.6 L661.1,31.9 L661.7,31.2 L662.5,30.5 L663.2,29.8 L664.0,29.2 L664.8,28.6 L665.7,28.0 L666.5,27.4 L667.4,26.9 L668.2,26.3 L669.0,25.8 L669.9,25.3 L670.8,24.8 L671.7,24.4 L672.6,23.9 L673.5,23.5 L674.4,23.1 L675.3,22.7 L676.2,22.3 L677.2,22.0 L678.1,21.6 L679.0,21.3 L680.0,21.0" fill="none" stroke="#066806" stroke-width="2.1" stroke-dasharray="9.3 4.9 3.3 4.9"/>
<path d="M415.5,11.0 L416.5,11.0 L417.5,11.0 L418.5,11.0 L419.5,11.0 L420.5,11.0 L421.5,11.1 L422.5,11.1 L423.5,11.1 L424.5,11.2 L425.5,11.2 L426.5,11.3 L427.5,11.3 L428.5,11.4 L429.5,11.5 L430.5,11.6 L431.5,11.7 L432.4,11.9 L433.4,12.2 L434.4,12.4 L435.4,12.7 L436.3,13.0 L437.3,13.3 L438.2,13.6 L439.2,13.9 L440.1,14.3 L441.1,14.7 L442.0,15.1 L442.9,15.5 L443.7,16.0 L444.6,16.5 L445.3,17.1 L446.1,17.8 L446.8,18.5 L447.6,19.2 L448.3,19.9 L449.0,20.5 L449.8,21.2 L450.5,21.9 L451.3,22.6 L452.0,23.3 L452.7,24.0 L453.4,24.7 L454.1,25.4 L454.8,26.2 L455.4,26.9 L456.0,27.7 L456.5,28.6 L457.0,29.4 L457.5,30.3 L458.0,31.2 L458.4,32.1 L458.8,33.0 L459.3,33.9 L459.7,34.8 L460.0,35.8 L460.4,36.7 L460.7,37.7 L461.0,38.6 L461.3,39.5 L461.6,40.5 L461.9,41.5 L462.1,42.4 L462.3,43.4 L462.6,44.4 L462.8,45.3 L463.0,46.3 L463.2,47.3 L463.4,48.3 L463.6,49.3 L463.8,50.3 L464.0,51.2 L464.3,52.2 L464.5,53.2 L464.7,54.2 L464.9,55.1 L465.2,56.1 L465.4,57.1 L465.6,58.1 L465.8,59.0 L466.1,60.0 L466.3,61.0 L466.5,62.0 L466.7,62.9 L466.9,63.9 L467.1,64.9 L467.3,65.9 L467.4,66.9 L467.6,67.8 L467.8,68.8 L468.0,69.8 L468.2,70.8 L468.3,71.8 L468.5,72.8 L468.7,73.8 L468.8,74.7 L469.0,75.7 L469.2,76.7 L469.3,77.7 L469.5,78.7 L469.7,79.7 L469.8,80.7 L470.0,81.6 L470.1,82.6 L470.3,83.6 L470.4,84.6 L470.6,85.6 L470.8,86.6 L470.9,87.6 L471.0,88.6 L471.2,89.5 L471.3,90.5 L471.5,91.5 L471.6,92.5 L471.7,93.5 L471.9,94.5 L472.0,95.5 L472.1,96.5 L472.2,97.5 L472.3,98.5 L472.5,99.5 L472.6,100.4 L472.7,101.4 L472.8,102.4 L472.9,103.4 L473.0,104.4 L473.1,105.4 L473.2,106.4 L473.4,107.4 L473.5,108.4 L473.6,109.4 L473.7,110.4 L473.8,111.4 L473.8,112.4 L473.9,113.4 L474.0,114.4 L474.1,115.4 L474.2,116.4 L474.3,117.4 L474.5,118.3 L474.6,119.3 L474.7,120.3 L474.8,121.3 L474.9,122.3 L475.1,123.3 L475.2,124.3 L475.4,125.3 L475.6,126.3 L475.7,127.2 L475.9,128.2 L476.1,129.2 L476.3,130.2 L476.4,131.2 L476.6,132.2 L476.8,133.2 L476.9,134.1 L477.1,135.1 L477.3,136.1 L477.4,137.1 L477.5,138.1 L477.6,139.1 L477.7,140.1 L477.9,141.1 L478.0,142.1 L478.3,143.0 L478.6,144.1 L479.2,145.0 L479.8,144.6 L480.3,143.6 L480.7,142.7 L480.9,141.7 L481.1,140.7 L481.3,139.7 L481.5,138.7 L481.6,137.7 L481.8,136.7 L482.0,135.7 L482.2,134.8 L482.4,133.8 L482.5,132.8 L482.7,131.8 L482.9,130.8 L483.1,129.8 L483.2,128.9 L483.4,127.9 L483.6,126.9 L483.7,125.9 L483.9,124.9 L484.0,123.9 L484.2,122.9 L484.4,122.0 L484.5,121.0 L484.7,120.0 L484.9,119.0 L485.0,118.0 L485.2,117.0 L485.4,116.0 L485.5,115.1 L485.7,114.1 L485.8,113.1 L486.0,112.1 L486.2,111.1 L486.3,110.1 L486.5,109.1 L486.6,108.2 L486.8,107.2 L487.0,106.2 L487.1,105.2 L487.3,104.2 L487.4,103.2 L487.6,102.2 L487.8,101.2 L488.0,100.3 L488.2,99.3 L488.4,98.3 L488.6,97.3 L488.8,96.4 L489.0,95.4 L489.3,94.4 L489.5,93.4 L489.7,92.5 L490.0,91.5 L490.2,90.5 L490.5,89.6 L490.8,88.6 L491.0,87.6 L491.3,86.7 L491.5,85.7 L491.8,84.7 L492.1,83.8 L492.3,82.8 L492.6,81.8 L492.9,80.9 L493.2,79.9 L493.5,79.0 L493.8,78.0 L494.1,77.1 L494.5,76.1 L494.8,75.2 L495.2,74.3 L495.6,73.4 L496.0,72.5 L496.5,71.6 L497.0,70.7 L497.5,69.8 L498.0,69.0 L498.5,68.1 L499.1,67.3 L499.7,66.5 L500.2,65.7 L500.8,64.8 L501.3,64.0 L501.8,63.1 L502.3,62.3 L502.9,61.5 L503.6,60.7 L504.3,60.0 L505.0,59.3 L505.7,58.6 L506.4,57.9 L507.1,57.2 L507.8,56.4 L508.6,55.7 L509.3,55.0 L510.0,54.3 L510.8,53.6 L511.5,53.0 L512.3,52.5 L513.2,52.0 L514.0,51.5 L514.9,51.1 L515.9,50.6 L516.8,50.2 L517.8,49.9 L518.8,49.6 L519.7,49.4 L520.7,49.2 L521.7,49.1 L522.7,49.1 L523.7,49.0 L524.7,49.0 L525.7,48.9 L526.7,48.9 L527.7,48.8 L528.7,48.8 L529.7,48.8 L530.7,48.8 L531.7,48.8 L532.7,48.8 L533.7,48.9 L534.7,48.9 L535.7,49.0 L536.7,49.1 L537.7,49.2 L538.7,49.2 L539.7,49.3 L540.7,49.4 L541.6,49.6 L542.6,49.7 L543.6,49.9 L544.6,50.1 L545.6,50.3 L546.6,50.5 L547.6,50.7 L548.5,50.9 L549.5,51.1 L550.5,51.4 L551.4,51.7 L552.4,52.0 L553.4,52.3 L554.4,52.5 L555.3,52.6 L556.3,52.6 L557.3,52.6 L558.3,52.5 L559.3,52.5 L560.3,52.4 L561.3,52.2 L562.3,52.0 L563.2,51.7 L564.2,51.4 L565.1,51.1 L566.1,50.8 L567.0,50.5 L568.0,50.1 L568.9,49.8 L569.9,49.4 L570.8,49.0 L571.7,48.7 L572.6,48.3 L573.5,47.8 L574.4,47.4 L575.4,47.0 L576.3,46.6 L577.2,46.2 L578.1,45.8 L579.0,45.4 L579.9,45.0 L580.9,44.6 L581.8,44.2 L582.7,43.8 L583.6,43.4 L584.5,43.0 L585.4,42.6 L586.3,42.2 L587.3,41.8 L588.2,41.4 L589.1,40.9 L590.0,40.4 L590.9,39.9 L591.8,39.5 L592.7,39.1 L593.7,38.8 L594.6,38.6 L595.6,38.4 L596.6,38.3 L597.6,38.2 L598.6,38.1 L599.6,38.0 L600.6,38.0 L601.5,38.1 L602.5,38.3 L603.4,38.6 L604.4,39.0 L605.3,39.4 L606.2,39.9 L607.1,40.4 L608.0,40.9 L608.9,41.4 L609.7,41.9 L610.6,42.5 L611.4,43.2 L612.1,43.8 L612.8,44.5 L613.4,45.3 L614.0,46.0 L614.5,46.9 L615.0,47.7 L615.4,48.7 L615.9,49.6 L616.3,50.5 L616.7,51.5 L617.1,52.4 L617.5,53.3 L617.8,54.2 L618.2,55.2 L618.5,56.1 L618.9,57.1 L619.2,58.0 L619.5,59.0 L619.8,59.9 L620.1,60.9 L620.4,61.8 L620.7,62.8 L620.9,63.7 L621.2,64.7 L621.5,65.7 L621.7,66.6 L622.0,67.6 L622.2,68.6 L622.5,69.6 L622.7,70.5 L622.9,71.5 L623.1,72.5 L623.4,73.5 L623.6,74.4 L623.8,75.4 L624.0,76.4 L624.2,77.4 L624.3,78.3 L624.5,79.3 L624.7,80.3 L624.9,81.3 L625.1,82.3 L625.2,83.3 L625.4,84.3 L625.6,85.2 L625.8,86.2 L626.0,87.2 L626.2,88.2 L626.4,89.2 L626.6,90.1 L626.8,91.1 L627.0,92.1 L627.3,93.1 L627.5,94.0 L627.7,95.0 L627.9,96.0 L628.1,97.0 L628.3,98.0 L628.4,99.0 L628.6,99.9 L628.7,100.9 L628.8,101.9 L628.9,102.9 L629.0,103.9 L629.1,104.9 L629.2,105.9 L629.3,106.9 L629.3,107.9 L629.4,108.9 L629.5,109.9 L629.6,110.9 L629.6,111.9 L629.7,112.9 L629.8,113.9 L629.9,114.9 L629.9,115.9 L630.0,116.9 L630.1,117.9 L630.2,118.9 L630.3,119.8 L630.4,120.8 L630.5,121.8 L630.6,122.8 L630.7,123.8 L630.8,124.8 L630.9,125.8 L631.1,126.8 L631.2,127.8 L631.3,128.8 L631.4,129.8 L631.5,130.8 L631.6,131.8 L631.7,132.8 L631.8,133.8 L631.9,134.8 L631.9,135.8 L632.0,136.8 L632.1,137.7 L632.2,138.7 L632.3,139.7 L632.3,140.7 L632.4,141.7 L632.4,142.7 L632.4,143.7 L632.5,144.7 L632.5,145.7 L632.5,146.7 L632.6,147.7 L632.6,148.7 L632.6,149.7 L632.6,150.7 L632.6,151.7 L632.7,152.7 L632.7,153.7 L632.7,154.7 L632.7,155.7 L632.7,156.7 L632.7,157.7 L632.8,158.7 L632.8,159.7 L632.8,160.7 L632.8,161.7 L632.9,162.7 L632.9,163.7 L632.9,164.7 L633.0,165.7 L633.0,166.7 L633.0,167.7 L633.0,168.7 L633.1,169.7 L633.1,170.7 L633.1,171.7 L633.2,172.7 L633.2,173.7 L633.2,174.7 L633.3,175.7 L633.3,176.7 L633.3,177.7 L633.4,178.7 L633.4,179.7 L633.4,180.7 L633.5,181.7 L633.5,182.7 L633.6,183.8 L633.6,185.0 L633.7,186.2 L633.8,187.4 L633.9,188.7 L633.9,190.0 L634.0,191.4 L634.1,192.7 L634.2,194.0 L634.3,195.3 L634.4,196.6 L634.4,197.8 L634.5,199.0 L634.6,200.1 L634.7,201.1 L634.8,202.1 L634.9,202.9 L635.0,203.7 L635.0,204.3 L635.1,204.8 L635.2,205.2 L635.2,205.4 L635.3,205.5 L635.4,205.4 L635.4,205.1 L635.5,204.7 L635.5,204.2 L635.6,203.5 L635.6,202.7 L635.6,201.8 L635.7,200.9 L635.7,199.8 L635.8,198.7 L635.8,197.5 L635.8,196.2 L635.9,195.0 L635.9,193.7 L636.0,192.3 L636.0,191.0 L636.0,189.7 L636.1,188.4 L636.1,187.1 L636.2,185.8 L636.2,184.6 L636.3,183.5 L636.4,182.4 L636.4,181.4 L636.5,180.4 L636.6,179.4 L636.7,178.4 L636.8,177.4 L636.9,176.4 L637.0,175.5 L637.1,174.5 L637.2,173.5 L637.4,172.5 L637.5,171.5 L637.6,170.5 L637.7,169.5 L637.9,168.5 L638.0,167.5 L638.2,166.5 L638.4,165.5 L638.6,164.6 L638.7,163.6 L638.9,162.6 L639.0,161.6 L639.2,160.6 L639.2,159.6 L639.3,158.6 L639.3,157.6 L639.4,156.6 L639.4,155.6 L639.4,154.6 L639.5,153.6 L639.5,152.6 L639.5,151.6 L639.6,150.6 L639.6,149.6 L639.6,148.6 L639.6,147.6 L639.7,146.6 L639.7,145.6 L639.7,144.6 L639.8,143.6 L639.8,142.6 L639.8,141.6 L639.9,140.6 L639.9,139.6 L639.9,138.6 L640.0,137.6 L640.0,136.6 L640.1,135.6 L640.1,134.6 L640.2,133.6 L640.2,132.6 L640.3,131.6 L640.3,130.7 L640.4,129.7 L640.4,128.7 L640.5,127.7 L640.6,126.7 L640.7,125.7 L640.8,124.7 L641.0,123.7 L641.1,122.7 L641.2,121.7 L641.3,120.7 L641.5,119.7 L641.6,118.7 L641.7,117.7 L641.8,116.7 L641.9,115.7 L642.0,114.8 L642.1,113.8 L642.2,112.8 L642.3,111.8 L642.4,110.8 L642.5,109.8 L642.6,108.8 L642.7,107.8 L642.7,106.8 L642.8,105.8 L642.9,104.8 L643.0,103.8 L643.1,102.8 L643.2,101.8 L643.3,100.8 L643.4,99.8 L643.5,98.8 L643.6,97.8 L643.8,96.8 L643.9,95.9 L644.0,94.9 L644.1,93.9 L644.2,92.9 L644.3,91.9 L644.5,90.9 L644.6,89.9 L644.7,88.9 L644.9,87.9 L645.0,86.9 L645.1,85.9 L645.3,84.9 L645.4,84.0 L645.6,83.0 L645.7,82.0 L645.9,81.0 L646.1,80.0 L646.2,79.0 L646.4,78.0 L646.6,77.1 L646.8,76.1 L647.0,75.1 L647.2,74.1 L647.4,73.1 L647.6,72.2 L647.8,71.2 L648.0,70.2 L648.3,69.2 L648.5,68.3 L648.7,67.3 L649.0,66.3 L649.2,65.4 L649.5,64.4 L649.7,63.4 L650.0,62.5 L650.2,61.5 L650.4,60.5 L650.6,59.5 L650.8,58.6 L651.0,57.6 L651.2,56.6 L651.4,55.6 L651.7,54.6 L651.9,53.7 L652.1,52.7 L652.3,51.7 L652.5,50.7 L652.8,49.8 L653.0,48.8 L653.3,47.8 L653.5,46.9 L653.8,45.9 L654.1,44.9 L654.4,44.0 L654.7,43.0 L655.1,42.1 L655.4,41.2 L655.8,40.3 L656.2,39.3 L656.7,38.4 L657.1,37.5 L657.6,36.7 L658.1,35.8 L658.6,34.9 L659.1,34.0 L659.7,33.2 L660.3,32.5 L660.9,31.8 L661.6,31.1 L662.4,30.4 L663.2,29.8 L664.0,29.2 L664.8,28.6 L665.6,28.0 L666.5,27.4 L667.3,26.9 L668.2,26.3 L669.0,25.8 L669.9,25.3 L670.8,24.8 L671.7,24.4 L672.6,23.9 L673.5,23.5 L674.4,23.1 L675.3,22.7 L676.2,22.3 L677.1,22.0 L678.1,21.6 L679.0,21.3 L680.0,21.0" fill="none" stroke="#700808" stroke-width="2.1" stroke-dasharray="9.3 4.9 3.3 4.9"/>
<rect x="414.8" y="10.0" width="265.4" height="216.4" fill="none" class="ax"/>
<line x1="414.8" y1="226.4" x2="414.8" y2="230.6" class="ax"/>
<line x1="461.4" y1="226.4" x2="461.4" y2="230.6" class="ax"/>
<line x1="507.9" y1="226.4" x2="507.9" y2="230.6" class="ax"/>
<line x1="554.5" y1="226.4" x2="554.5" y2="230.6" class="ax"/>
<line x1="601.0" y1="226.4" x2="601.0" y2="230.6" class="ax"/>
<line x1="647.5" y1="226.4" x2="647.5" y2="230.6" class="ax"/>
<line x1="438.1" y1="226.4" x2="438.1" y2="228.8" class="ax"/>
<line x1="484.6" y1="226.4" x2="484.6" y2="228.8" class="ax"/>
<line x1="531.2" y1="226.4" x2="531.2" y2="228.8" class="ax"/>
<line x1="577.7" y1="226.4" x2="577.7" y2="228.8" class="ax"/>
<line x1="624.3" y1="226.4" x2="624.3" y2="228.8" class="ax"/>
<line x1="670.8" y1="226.4" x2="670.8" y2="228.8" class="ax"/>
<line x1="414.8" y1="10.0" x2="410.6" y2="10.0" class="ax"/>
<line x1="414.8" y1="58.0" x2="410.6" y2="58.0" class="ax"/>
<line x1="414.8" y1="106.1" x2="410.6" y2="106.1" class="ax"/>
<line x1="414.8" y1="154.1" x2="410.6" y2="154.1" class="ax"/>
<line x1="414.8" y1="202.2" x2="410.6" y2="202.2" class="ax"/>
<line x1="414.8" y1="34.0" x2="412.40000000000003" y2="34.0" class="ax"/>
<line x1="414.8" y1="82.1" x2="412.40000000000003" y2="82.1" class="ax"/>
<line x1="414.8" y1="130.1" x2="412.40000000000003" y2="130.1" class="ax"/>
<line x1="414.8" y1="178.2" x2="412.40000000000003" y2="178.2" class="ax"/>
<line x1="414.8" y1="226.2" x2="412.40000000000003" y2="226.2" class="ax"/>
<text x="414.8" y="241.4" class="t" text-anchor="middle">1</text>
<text x="461.4" y="241.4" class="t" text-anchor="middle">2</text>
<text x="507.9" y="241.4" class="t" text-anchor="middle">3</text>
<text x="554.5" y="241.4" class="t" text-anchor="middle">4</text>
<text x="601.0" y="241.4" class="t" text-anchor="middle">5</text>
<text x="647.5" y="241.4" class="t" text-anchor="middle">6</text>
<text x="407.3" y="12.6" class="t" text-anchor="end">0</text>
<text x="407.3" y="60.6" class="t" text-anchor="end">-5</text>
<text x="407.3" y="108.7" class="t" text-anchor="end">-10</text>
<text x="407.3" y="156.7" class="t" text-anchor="end">-15</text>
<text x="407.3" y="204.8" class="t" text-anchor="end">-20</text>
<rect x="508.6" y="119.5" width="95" height="62" fill="#fff"/>
<line x1="510.9" y1="127" x2="534.0" y2="127" stroke="#000000" stroke-width="2.2" stroke-dasharray="3.9 2.2"/>
<text x="537.6" y="130.6" class="t lg">wa1 = 0.3 mm</text>
<line x1="510.9" y1="139.1" x2="532.5" y2="139.1" stroke="#ff0000" stroke-width="2.2" stroke-dasharray="12 5 3.3 5"/>
<text x="537.6" y="142.7" class="t lg">wa1 = 0.5 mm</text>
<line x1="510.9" y1="151.3" x2="532.5" y2="151.3" stroke="#0000ff" stroke-width="2.2" stroke-dasharray="3.4 8.6"/>
<text x="537.6" y="154.9" class="t lg">wa1 = 1.0 mm</text>
<line x1="510.9" y1="163.4" x2="532.5" y2="163.4" stroke="#066806" stroke-width="2.2" stroke-dasharray="9.3 4.9 3.3 4.9"/>
<text x="537.6" y="167.0" class="t lg">wa1 = 1.5 mm</text>
<line x1="510.9" y1="175.6" x2="532.5" y2="175.6" stroke="#700808" stroke-width="2.2" stroke-dasharray="9.3 4.9 3.3 4.9"/>
<text x="537.6" y="179.2" class="t lg">wa1 = 1.8 mm</text>
<text x="547.2" y="259" class="t xl" text-anchor="middle">Frequency (GHz)</text>
<text transform="translate(376.5,125.5) rotate(-90)" class="t xl" text-anchor="middle">S<tspan dy="2.2" font-size="6.2">11</tspan><tspan dy="-2.2">(dB)</tspan></text>
<text x="555.2" y="304" class="cap" text-anchor="middle">(b)</text>
</g>
</svg>
</body></html>
